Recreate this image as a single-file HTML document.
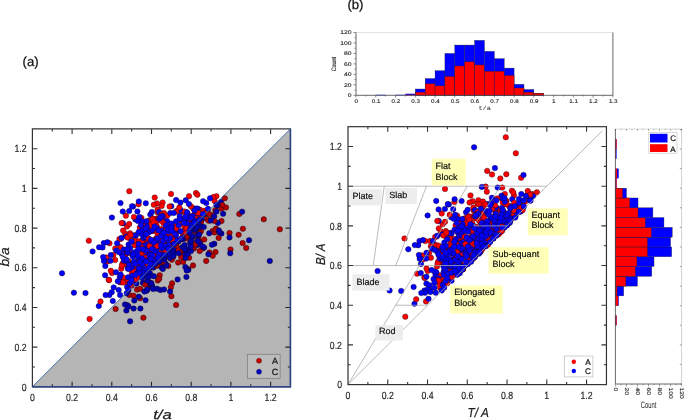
<!DOCTYPE html><html><head><meta charset="utf-8"><title>fig</title><style>html,body{margin:0;padding:0;background:#fff}svg{display:block;text-rendering:geometricPrecision}svg{will-change:transform}</style></head><body>
<svg width="685" height="420" viewBox="0 0 685 420">
<rect width="685" height="420" fill="#fff"/>
<text x="22.6" y="65.6" font-family="Liberation Sans, sans-serif" font-size="13.2" fill="#111" stroke="#111" stroke-width="0.25">(a)</text>
<text x="347.4" y="9.4" font-family="Liberation Sans, sans-serif" font-size="13.2" fill="#111" stroke="#111" stroke-width="0.25">(b)</text>
<path d="M32.40 386.80V128.88H290.45V386.80Z" stroke="#333" stroke-width="1.2" fill="none"/>
<path d="M52.25 386.80v-2.6M52.25 128.88v2.6M32.40 366.96h2.6M290.45 366.96h-2.6M72.10 386.80v-5.0M72.10 128.88v5.0M32.40 347.12h5.0M290.45 347.12h-5.0M91.95 386.80v-2.6M91.95 128.88v2.6M32.40 327.28h2.6M290.45 327.28h-2.6M111.80 386.80v-5.0M111.80 128.88v5.0M32.40 307.44h5.0M290.45 307.44h-5.0M131.65 386.80v-2.6M131.65 128.88v2.6M32.40 287.60h2.6M290.45 287.60h-2.6M151.50 386.80v-5.0M151.50 128.88v5.0M32.40 267.76h5.0M290.45 267.76h-5.0M171.35 386.80v-2.6M171.35 128.88v2.6M32.40 247.92h2.6M290.45 247.92h-2.6M191.20 386.80v-5.0M191.20 128.88v5.0M32.40 228.08h5.0M290.45 228.08h-5.0M211.05 386.80v-2.6M211.05 128.88v2.6M32.40 208.24h2.6M290.45 208.24h-2.6M230.90 386.80v-5.0M230.90 128.88v5.0M32.40 188.40h5.0M290.45 188.40h-5.0M250.75 386.80v-2.6M250.75 128.88v2.6M32.40 168.56h2.6M290.45 168.56h-2.6M270.60 386.80v-5.0M270.60 128.88v5.0M32.40 148.72h5.0M290.45 148.72h-5.0" stroke="#333" stroke-width="1.1" fill="none"/>
<g font-family="Liberation Sans, sans-serif" font-size="10.4" fill="#1a1a1a" stroke="#1a1a1a" stroke-width="0.15" transform="scale(0.84,1)"><text x="38.57" y="401.40" text-anchor="middle">0</text><text x="31.67" y="390.50" text-anchor="end">0</text><text x="85.83" y="401.40" text-anchor="middle">0.2</text><text x="31.67" y="350.82" text-anchor="end">0.2</text><text x="133.10" y="401.40" text-anchor="middle">0.4</text><text x="31.67" y="311.14" text-anchor="end">0.4</text><text x="180.36" y="401.40" text-anchor="middle">0.6</text><text x="31.67" y="271.46" text-anchor="end">0.6</text><text x="227.62" y="401.40" text-anchor="middle">0.8</text><text x="31.67" y="231.78" text-anchor="end">0.8</text><text x="274.88" y="401.40" text-anchor="middle">1</text><text x="31.67" y="192.10" text-anchor="end">1</text><text x="322.14" y="401.40" text-anchor="middle">1.2</text><text x="31.67" y="152.42" text-anchor="end">1.2</text></g>
<g stroke="#1a0018" stroke-width="0.4"><circle cx="149.9" cy="274.5" r="2.75" fill="#f00"/><circle cx="163.8" cy="253.6" r="2.75" fill="#f00"/><circle cx="173.5" cy="243.4" r="2.75" fill="#f00"/><circle cx="198.0" cy="231.8" r="2.75" fill="#f00"/><circle cx="191.6" cy="216.4" r="2.75" fill="#f00"/><circle cx="147.3" cy="271.4" r="2.75" fill="#f00"/><circle cx="191.6" cy="229.7" r="2.75" fill="#f00"/><circle cx="155.1" cy="246.3" r="2.75" fill="#f00"/><circle cx="141.4" cy="217.9" r="2.75" fill="#f00"/><circle cx="152.2" cy="231.1" r="2.75" fill="#f00"/><circle cx="126.4" cy="264.8" r="2.75" fill="#f00"/><circle cx="190.9" cy="248.0" r="2.75" fill="#f00"/><circle cx="160.6" cy="241.2" r="2.75" fill="#f00"/><circle cx="146.0" cy="241.2" r="2.75" fill="#f00"/><circle cx="163.8" cy="239.9" r="2.75" fill="#f00"/><circle cx="149.7" cy="220.2" r="2.75" fill="#f00"/><circle cx="200.9" cy="231.2" r="2.75" fill="#f00"/><circle cx="197.2" cy="214.3" r="2.75" fill="#f00"/><circle cx="134.8" cy="245.3" r="2.75" fill="#f00"/><circle cx="176.7" cy="239.7" r="2.75" fill="#f00"/><circle cx="138.6" cy="243.4" r="2.75" fill="#f00"/><circle cx="199.2" cy="233.0" r="2.75" fill="#f00"/><circle cx="126.3" cy="264.4" r="2.75" fill="#f00"/><circle cx="147.1" cy="240.0" r="2.75" fill="#f00"/><circle cx="153.7" cy="240.9" r="2.75" fill="#f00"/><circle cx="120.4" cy="247.1" r="2.75" fill="#f00"/><circle cx="165.3" cy="220.9" r="2.75" fill="#f00"/><circle cx="160.1" cy="257.0" r="2.75" fill="#f00"/><circle cx="209.5" cy="252.5" r="2.75" fill="#f00"/><circle cx="125.2" cy="233.8" r="2.75" fill="#f00"/><circle cx="193.2" cy="227.3" r="2.75" fill="#f00"/><circle cx="206.9" cy="219.0" r="2.75" fill="#f00"/><circle cx="178.1" cy="262.6" r="2.75" fill="#f00"/><circle cx="174.6" cy="235.8" r="2.75" fill="#f00"/><circle cx="194.9" cy="213.1" r="2.75" fill="#f00"/><circle cx="162.4" cy="237.9" r="2.75" fill="#f00"/><circle cx="146.0" cy="252.2" r="2.75" fill="#f00"/><circle cx="108.7" cy="279.8" r="2.75" fill="#f00"/><circle cx="141.8" cy="245.3" r="2.75" fill="#f00"/><circle cx="131.6" cy="285.4" r="2.75" fill="#f00"/><circle cx="216.0" cy="228.8" r="2.75" fill="#f00"/><circle cx="165.3" cy="254.5" r="2.75" fill="#f00"/><circle cx="166.2" cy="236.1" r="2.75" fill="#f00"/><circle cx="153.1" cy="240.9" r="2.75" fill="#f00"/><circle cx="153.3" cy="222.6" r="2.75" fill="#f00"/><circle cx="239.3" cy="214.0" r="2.75" fill="#f00"/><circle cx="193.1" cy="208.2" r="2.75" fill="#f00"/><circle cx="128.7" cy="262.5" r="2.75" fill="#f00"/><circle cx="172.1" cy="242.4" r="2.75" fill="#f00"/><circle cx="191.3" cy="239.6" r="2.75" fill="#f00"/><circle cx="128.0" cy="283.0" r="2.75" fill="#f00"/><circle cx="112.0" cy="273.1" r="2.75" fill="#f00"/><circle cx="200.0" cy="209.8" r="2.75" fill="#f00"/><circle cx="181.9" cy="251.9" r="2.75" fill="#f00"/><circle cx="89.6" cy="318.9" r="2.75" fill="#f00"/><circle cx="183.2" cy="261.9" r="2.75" fill="#f00"/><circle cx="115.2" cy="260.0" r="2.75" fill="#f00"/><circle cx="156.2" cy="238.2" r="2.75" fill="#f00"/><circle cx="134.7" cy="237.8" r="2.75" fill="#f00"/><circle cx="142.3" cy="250.0" r="2.75" fill="#f00"/><circle cx="172.1" cy="283.3" r="2.75" fill="#f00"/><circle cx="156.6" cy="247.2" r="2.75" fill="#f00"/><circle cx="193.9" cy="248.4" r="2.75" fill="#f00"/><circle cx="137.0" cy="289.6" r="2.75" fill="#f00"/><circle cx="147.0" cy="242.7" r="2.75" fill="#f00"/><circle cx="147.5" cy="240.8" r="2.75" fill="#f00"/><circle cx="163.6" cy="237.2" r="2.75" fill="#f00"/><circle cx="162.6" cy="202.5" r="2.75" fill="#f00"/><circle cx="212.6" cy="231.1" r="2.75" fill="#f00"/><circle cx="179.7" cy="252.9" r="2.75" fill="#f00"/><circle cx="127.2" cy="280.1" r="2.75" fill="#f00"/><circle cx="157.8" cy="280.5" r="2.75" fill="#f00"/><circle cx="206.3" cy="213.6" r="2.75" fill="#f00"/><circle cx="166.2" cy="240.2" r="2.75" fill="#f00"/><circle cx="145.0" cy="267.2" r="2.75" fill="#f00"/><circle cx="121.3" cy="268.7" r="2.75" fill="#f00"/><circle cx="184.8" cy="212.4" r="2.75" fill="#f00"/><circle cx="128.8" cy="267.0" r="2.75" fill="#f00"/><circle cx="188.0" cy="233.9" r="2.75" fill="#f00"/><circle cx="166.2" cy="245.4" r="2.75" fill="#f00"/><circle cx="122.5" cy="263.6" r="2.75" fill="#f00"/><circle cx="185.0" cy="234.3" r="2.75" fill="#f00"/><circle cx="144.3" cy="268.0" r="2.75" fill="#f00"/><circle cx="153.6" cy="256.4" r="2.75" fill="#f00"/><circle cx="230.5" cy="249.5" r="2.75" fill="#f00"/><circle cx="161.3" cy="215.4" r="2.75" fill="#f00"/><circle cx="163.9" cy="212.9" r="2.75" fill="#f00"/><circle cx="115.2" cy="248.5" r="2.75" fill="#f00"/><circle cx="151.1" cy="257.2" r="2.75" fill="#f00"/><circle cx="193.8" cy="209.1" r="2.75" fill="#f00"/><circle cx="149.1" cy="286.5" r="2.75" fill="#f00"/><circle cx="158.0" cy="251.1" r="2.75" fill="#f00"/><circle cx="188.3" cy="269.1" r="2.75" fill="#f00"/><circle cx="180.9" cy="211.3" r="2.75" fill="#f00"/><circle cx="137.9" cy="264.7" r="2.75" fill="#f00"/><circle cx="131.9" cy="272.9" r="2.75" fill="#f00"/><circle cx="127.0" cy="226.5" r="2.75" fill="#f00"/><circle cx="174.6" cy="239.2" r="2.75" fill="#f00"/><circle cx="135.4" cy="235.2" r="2.75" fill="#f00"/><circle cx="145.1" cy="266.5" r="2.75" fill="#f00"/><circle cx="164.1" cy="265.6" r="2.75" fill="#f00"/><circle cx="195.3" cy="231.3" r="2.75" fill="#f00"/><circle cx="152.7" cy="262.2" r="2.75" fill="#f00"/><circle cx="139.0" cy="241.2" r="2.75" fill="#f00"/><circle cx="88.8" cy="240.7" r="2.75" fill="#f00"/><circle cx="145.0" cy="246.5" r="2.75" fill="#f00"/><circle cx="200.3" cy="241.5" r="2.75" fill="#f00"/><circle cx="167.0" cy="238.3" r="2.75" fill="#f00"/><circle cx="215.5" cy="252.1" r="2.75" fill="#f00"/><circle cx="182.1" cy="237.9" r="2.75" fill="#f00"/><circle cx="167.4" cy="215.6" r="2.75" fill="#f00"/><circle cx="208.7" cy="220.8" r="2.75" fill="#f00"/><circle cx="164.0" cy="249.4" r="2.75" fill="#f00"/><circle cx="221.4" cy="208.6" r="2.75" fill="#f00"/><circle cx="167.9" cy="237.5" r="2.75" fill="#f00"/><circle cx="119.3" cy="281.0" r="2.75" fill="#f00"/><circle cx="246.2" cy="247.9" r="2.75" fill="#f00"/><circle cx="203.6" cy="212.7" r="2.75" fill="#f00"/><circle cx="120.9" cy="238.8" r="2.75" fill="#f00"/><circle cx="163.0" cy="255.1" r="2.75" fill="#f00"/><circle cx="189.7" cy="236.0" r="2.75" fill="#f00"/><circle cx="161.1" cy="244.4" r="2.75" fill="#f00"/><circle cx="204.3" cy="210.8" r="2.75" fill="#f00"/><circle cx="153.8" cy="246.1" r="2.75" fill="#f00"/><circle cx="159.3" cy="242.2" r="2.75" fill="#f00"/><circle cx="168.4" cy="230.0" r="2.75" fill="#f00"/><circle cx="202.8" cy="248.4" r="2.75" fill="#f00"/><circle cx="185.0" cy="255.8" r="2.75" fill="#f00"/><circle cx="140.2" cy="288.8" r="2.75" fill="#f00"/><circle cx="165.3" cy="242.4" r="2.75" fill="#f00"/><circle cx="149.5" cy="225.7" r="2.75" fill="#f00"/><circle cx="216.4" cy="196.2" r="2.75" fill="#f00"/><circle cx="212.8" cy="215.2" r="2.75" fill="#f00"/><circle cx="221.5" cy="221.1" r="2.75" fill="#f00"/><circle cx="147.6" cy="231.7" r="2.75" fill="#f00"/><circle cx="214.5" cy="232.4" r="2.75" fill="#f00"/><circle cx="157.3" cy="260.2" r="2.75" fill="#f00"/><circle cx="129.3" cy="191.2" r="2.75" fill="#f00"/><circle cx="214.6" cy="201.0" r="2.75" fill="#f00"/><circle cx="148.5" cy="272.6" r="2.75" fill="#f00"/><circle cx="156.6" cy="231.7" r="2.75" fill="#f00"/><circle cx="176.1" cy="305.0" r="2.75" fill="#f00"/><circle cx="128.5" cy="263.0" r="2.75" fill="#f00"/><circle cx="171.0" cy="193.9" r="2.75" fill="#f00"/><circle cx="185.2" cy="238.5" r="2.75" fill="#f00"/><circle cx="192.4" cy="229.1" r="2.75" fill="#f00"/><circle cx="155.7" cy="246.8" r="2.75" fill="#f00"/><circle cx="145.2" cy="257.0" r="2.75" fill="#f00"/><circle cx="181.9" cy="222.8" r="2.75" fill="#f00"/><circle cx="172.2" cy="240.3" r="2.75" fill="#f00"/><circle cx="142.5" cy="240.5" r="2.75" fill="#f00"/><circle cx="156.3" cy="254.3" r="2.75" fill="#f00"/><circle cx="229.5" cy="232.9" r="2.75" fill="#f00"/><circle cx="156.4" cy="230.8" r="2.75" fill="#f00"/><circle cx="107.4" cy="261.4" r="2.75" fill="#f00"/><circle cx="123.7" cy="258.6" r="2.75" fill="#f00"/><circle cx="148.3" cy="273.7" r="2.75" fill="#f00"/><circle cx="212.7" cy="219.0" r="2.75" fill="#f00"/><circle cx="109.1" cy="280.2" r="2.75" fill="#f00"/><circle cx="151.4" cy="249.9" r="2.75" fill="#f00"/><circle cx="164.0" cy="235.8" r="2.75" fill="#f00"/><circle cx="128.0" cy="279.0" r="2.75" fill="#f00"/><circle cx="119.4" cy="239.1" r="2.75" fill="#f00"/><circle cx="168.7" cy="252.7" r="2.75" fill="#f00"/><circle cx="165.0" cy="250.6" r="2.75" fill="#f00"/><circle cx="139.8" cy="227.5" r="2.75" fill="#f00"/><circle cx="140.0" cy="298.3" r="2.75" fill="#f00"/><circle cx="159.9" cy="232.5" r="2.75" fill="#f00"/><circle cx="109.5" cy="243.3" r="2.75" fill="#f00"/><circle cx="195.6" cy="220.9" r="2.75" fill="#f00"/><circle cx="142.9" cy="246.2" r="2.75" fill="#f00"/><circle cx="196.0" cy="193.0" r="2.75" fill="#f00"/><circle cx="152.3" cy="247.4" r="2.75" fill="#f00"/><circle cx="189.0" cy="196.2" r="2.75" fill="#f00"/><circle cx="171.5" cy="248.0" r="2.75" fill="#f00"/><circle cx="193.0" cy="265.4" r="2.75" fill="#f00"/><circle cx="129.3" cy="294.9" r="2.75" fill="#f00"/><circle cx="202.5" cy="212.1" r="2.75" fill="#f00"/><circle cx="155.7" cy="258.9" r="2.75" fill="#00f"/><circle cx="141.9" cy="263.6" r="2.75" fill="#f00"/><circle cx="172.4" cy="247.4" r="2.75" fill="#00f"/><circle cx="144.2" cy="234.3" r="2.75" fill="#f00"/><circle cx="177.0" cy="210.7" r="2.75" fill="#f00"/><circle cx="134.1" cy="274.0" r="2.75" fill="#f00"/><circle cx="125.9" cy="215.7" r="2.75" fill="#f00"/><circle cx="110.8" cy="270.8" r="2.75" fill="#f00"/><circle cx="168.3" cy="265.9" r="2.75" fill="#f00"/><circle cx="130.3" cy="238.6" r="2.75" fill="#f00"/><circle cx="171.7" cy="230.0" r="2.75" fill="#00f"/><circle cx="188.8" cy="219.6" r="2.75" fill="#f00"/><circle cx="159.7" cy="235.4" r="2.75" fill="#00f"/><circle cx="150.3" cy="214.5" r="2.75" fill="#00f"/><circle cx="111.7" cy="292.2" r="2.75" fill="#00f"/><circle cx="126.4" cy="310.5" r="2.75" fill="#00f"/><circle cx="136.4" cy="283.5" r="2.75" fill="#00f"/><circle cx="142.6" cy="263.6" r="2.75" fill="#00f"/><circle cx="170.7" cy="258.2" r="2.75" fill="#00f"/><circle cx="156.1" cy="260.6" r="2.75" fill="#f00"/><circle cx="157.6" cy="257.1" r="2.75" fill="#f00"/><circle cx="157.7" cy="264.1" r="2.75" fill="#f00"/><circle cx="148.2" cy="223.9" r="2.75" fill="#00f"/><circle cx="143.3" cy="271.8" r="2.75" fill="#f00"/><circle cx="150.2" cy="250.1" r="2.75" fill="#00f"/><circle cx="145.3" cy="225.1" r="2.75" fill="#f00"/><circle cx="167.0" cy="231.1" r="2.75" fill="#00f"/><circle cx="123.1" cy="277.5" r="2.75" fill="#f00"/><circle cx="115.6" cy="309.0" r="2.75" fill="#f00"/><circle cx="153.4" cy="267.6" r="2.75" fill="#00f"/><circle cx="165.4" cy="248.6" r="2.75" fill="#00f"/><circle cx="106.4" cy="257.6" r="2.75" fill="#f00"/><circle cx="139.8" cy="259.8" r="2.75" fill="#00f"/><circle cx="198.6" cy="215.4" r="2.75" fill="#f00"/><circle cx="156.1" cy="265.5" r="2.75" fill="#f00"/><circle cx="151.4" cy="264.1" r="2.75" fill="#f00"/><circle cx="198.3" cy="236.9" r="2.75" fill="#f00"/><circle cx="120.5" cy="203.1" r="2.75" fill="#00f"/><circle cx="135.5" cy="219.4" r="2.75" fill="#00f"/><circle cx="150.4" cy="257.8" r="2.75" fill="#f00"/><circle cx="150.5" cy="242.6" r="2.75" fill="#f00"/><circle cx="113.4" cy="255.0" r="2.75" fill="#f00"/><circle cx="167.5" cy="236.5" r="2.75" fill="#00f"/><circle cx="156.9" cy="203.4" r="2.75" fill="#f00"/><circle cx="123.9" cy="249.5" r="2.75" fill="#00f"/><circle cx="140.9" cy="268.5" r="2.75" fill="#00f"/><circle cx="154.6" cy="262.4" r="2.75" fill="#00f"/><circle cx="162.9" cy="251.5" r="2.75" fill="#f00"/><circle cx="147.4" cy="272.4" r="2.75" fill="#f00"/><circle cx="174.0" cy="243.7" r="2.75" fill="#00f"/><circle cx="140.3" cy="259.7" r="2.75" fill="#00f"/><circle cx="139.1" cy="247.6" r="2.75" fill="#f00"/><circle cx="125.2" cy="254.8" r="2.75" fill="#f00"/><circle cx="159.4" cy="231.6" r="2.75" fill="#00f"/><circle cx="136.9" cy="262.7" r="2.75" fill="#f00"/><circle cx="140.5" cy="220.1" r="2.75" fill="#f00"/><circle cx="159.7" cy="275.3" r="2.75" fill="#f00"/><circle cx="147.4" cy="244.3" r="2.75" fill="#00f"/><circle cx="144.6" cy="245.8" r="2.75" fill="#00f"/><circle cx="144.0" cy="238.3" r="2.75" fill="#f00"/><circle cx="188.2" cy="217.6" r="2.75" fill="#00f"/><circle cx="164.0" cy="263.9" r="2.75" fill="#00f"/><circle cx="153.8" cy="204.8" r="2.75" fill="#f00"/><circle cx="165.6" cy="226.8" r="2.75" fill="#00f"/><circle cx="195.4" cy="218.0" r="2.75" fill="#f00"/><circle cx="134.3" cy="269.3" r="2.75" fill="#00f"/><circle cx="197.8" cy="208.7" r="2.75" fill="#00f"/><circle cx="221.4" cy="233.6" r="2.75" fill="#00f"/><circle cx="156.6" cy="240.5" r="2.75" fill="#00f"/><circle cx="238.6" cy="234.8" r="2.75" fill="#f00"/><circle cx="149.3" cy="255.9" r="2.75" fill="#00f"/><circle cx="151.3" cy="230.9" r="2.75" fill="#00f"/><circle cx="138.0" cy="257.3" r="2.75" fill="#00f"/><circle cx="206.2" cy="260.9" r="2.75" fill="#f00"/><circle cx="138.5" cy="264.6" r="2.75" fill="#00f"/><circle cx="184.6" cy="231.2" r="2.75" fill="#00f"/><circle cx="144.8" cy="260.8" r="2.75" fill="#00f"/><circle cx="143.9" cy="267.9" r="2.75" fill="#00f"/><circle cx="190.2" cy="240.8" r="2.75" fill="#f00"/><circle cx="177.1" cy="248.1" r="2.75" fill="#00f"/><circle cx="170.3" cy="213.1" r="2.75" fill="#00f"/><circle cx="154.6" cy="258.1" r="2.75" fill="#00f"/><circle cx="204.3" cy="214.0" r="2.75" fill="#00f"/><circle cx="128.6" cy="244.6" r="2.75" fill="#00f"/><circle cx="141.1" cy="262.9" r="2.75" fill="#00f"/><circle cx="180.2" cy="231.2" r="2.75" fill="#f00"/><circle cx="171.4" cy="228.3" r="2.75" fill="#00f"/><circle cx="213.3" cy="197.1" r="2.75" fill="#f00"/><circle cx="152.4" cy="251.9" r="2.75" fill="#00f"/><circle cx="128.1" cy="261.1" r="2.75" fill="#f00"/><circle cx="133.6" cy="295.7" r="2.75" fill="#f00"/><circle cx="242.9" cy="228.8" r="2.75" fill="#f00"/><circle cx="221.0" cy="202.0" r="2.75" fill="#00f"/><circle cx="190.7" cy="247.4" r="2.75" fill="#f00"/><circle cx="196.2" cy="208.4" r="2.75" fill="#00f"/><circle cx="134.2" cy="279.8" r="2.75" fill="#00f"/><circle cx="184.4" cy="226.4" r="2.75" fill="#f00"/><circle cx="185.9" cy="229.6" r="2.75" fill="#00f"/><circle cx="127.1" cy="286.9" r="2.75" fill="#00f"/><circle cx="198.3" cy="213.8" r="2.75" fill="#00f"/><circle cx="150.9" cy="258.5" r="2.75" fill="#00f"/><circle cx="73.9" cy="292.7" r="2.75" fill="#00f"/><circle cx="123.0" cy="223.2" r="2.75" fill="#00f"/><circle cx="153.3" cy="262.3" r="2.75" fill="#00f"/><circle cx="148.3" cy="221.2" r="2.75" fill="#f00"/><circle cx="197.2" cy="241.0" r="2.75" fill="#f00"/><circle cx="129.1" cy="252.9" r="2.75" fill="#f00"/><circle cx="120.2" cy="282.3" r="2.75" fill="#00f"/><circle cx="180.6" cy="209.9" r="2.75" fill="#00f"/><circle cx="157.8" cy="212.5" r="2.75" fill="#f00"/><circle cx="127.4" cy="305.3" r="2.75" fill="#00f"/><circle cx="150.2" cy="254.7" r="2.75" fill="#00f"/><circle cx="136.9" cy="265.1" r="2.75" fill="#00f"/><circle cx="157.8" cy="258.0" r="2.75" fill="#f00"/><circle cx="130.1" cy="321.3" r="2.75" fill="#00f"/><circle cx="134.3" cy="271.4" r="2.75" fill="#f00"/><circle cx="164.0" cy="248.8" r="2.75" fill="#f00"/><circle cx="163.7" cy="230.8" r="2.75" fill="#f00"/><circle cx="92.6" cy="251.4" r="2.75" fill="#00f"/><circle cx="161.4" cy="267.3" r="2.75" fill="#00f"/><circle cx="163.7" cy="253.0" r="2.75" fill="#f00"/><circle cx="145.9" cy="248.5" r="2.75" fill="#00f"/><circle cx="164.1" cy="223.2" r="2.75" fill="#f00"/><circle cx="185.1" cy="230.6" r="2.75" fill="#f00"/><circle cx="159.2" cy="278.8" r="2.75" fill="#f00"/><circle cx="138.8" cy="296.7" r="2.75" fill="#00f"/><circle cx="124.0" cy="260.8" r="2.75" fill="#00f"/><circle cx="149.8" cy="283.3" r="2.75" fill="#00f"/><circle cx="185.7" cy="200.3" r="2.75" fill="#00f"/><circle cx="154.7" cy="197.6" r="2.75" fill="#f00"/><circle cx="168.8" cy="234.6" r="2.75" fill="#f00"/><circle cx="183.1" cy="236.2" r="2.75" fill="#f00"/><circle cx="171.9" cy="249.2" r="2.75" fill="#00f"/><circle cx="215.4" cy="210.2" r="2.75" fill="#f00"/><circle cx="160.2" cy="244.0" r="2.75" fill="#00f"/><circle cx="170.9" cy="287.2" r="2.75" fill="#f00"/><circle cx="135.9" cy="235.4" r="2.75" fill="#00f"/><circle cx="153.4" cy="245.5" r="2.75" fill="#f00"/><circle cx="156.7" cy="218.6" r="2.75" fill="#f00"/><circle cx="171.7" cy="247.4" r="2.75" fill="#f00"/><circle cx="198.3" cy="212.9" r="2.75" fill="#f00"/><circle cx="157.6" cy="209.6" r="2.75" fill="#f00"/><circle cx="152.6" cy="225.4" r="2.75" fill="#00f"/><circle cx="153.0" cy="255.5" r="2.75" fill="#00f"/><circle cx="167.1" cy="221.1" r="2.75" fill="#00f"/><circle cx="151.0" cy="282.9" r="2.75" fill="#f00"/><circle cx="173.4" cy="252.3" r="2.75" fill="#00f"/><circle cx="153.0" cy="218.4" r="2.75" fill="#f00"/><circle cx="204.2" cy="239.4" r="2.75" fill="#f00"/><circle cx="161.7" cy="206.0" r="2.75" fill="#f00"/><circle cx="103.8" cy="243.1" r="2.75" fill="#00f"/><circle cx="219.5" cy="232.4" r="2.75" fill="#00f"/><circle cx="206.3" cy="203.0" r="2.75" fill="#00f"/><circle cx="171.4" cy="296.2" r="2.75" fill="#f00"/><circle cx="242.6" cy="243.1" r="2.75" fill="#f00"/><circle cx="142.9" cy="282.8" r="2.75" fill="#00f"/><circle cx="142.2" cy="230.5" r="2.75" fill="#00f"/><circle cx="126.9" cy="249.8" r="2.75" fill="#00f"/><circle cx="141.7" cy="247.4" r="2.75" fill="#f00"/><circle cx="123.1" cy="230.6" r="2.75" fill="#f00"/><circle cx="147.4" cy="250.1" r="2.75" fill="#00f"/><circle cx="176.2" cy="211.5" r="2.75" fill="#f00"/><circle cx="170.6" cy="231.8" r="2.75" fill="#f00"/><circle cx="189.1" cy="257.8" r="2.75" fill="#f00"/><circle cx="159.0" cy="212.1" r="2.75" fill="#00f"/><circle cx="156.5" cy="250.4" r="2.75" fill="#00f"/><circle cx="197.6" cy="245.1" r="2.75" fill="#00f"/><circle cx="162.6" cy="234.6" r="2.75" fill="#00f"/><circle cx="172.9" cy="251.3" r="2.75" fill="#00f"/><circle cx="136.4" cy="265.8" r="2.75" fill="#f00"/><circle cx="156.6" cy="225.6" r="2.75" fill="#f00"/><circle cx="121.5" cy="237.9" r="2.75" fill="#00f"/><circle cx="109.4" cy="295.0" r="2.75" fill="#00f"/><circle cx="146.3" cy="284.4" r="2.75" fill="#00f"/><circle cx="126.6" cy="236.5" r="2.75" fill="#00f"/><circle cx="150.8" cy="241.8" r="2.75" fill="#f00"/><circle cx="172.4" cy="235.5" r="2.75" fill="#f00"/><circle cx="159.1" cy="262.8" r="2.75" fill="#f00"/><circle cx="161.6" cy="214.4" r="2.75" fill="#f00"/><circle cx="98.8" cy="306.0" r="2.75" fill="#00f"/><circle cx="160.4" cy="290.0" r="2.75" fill="#00f"/><circle cx="182.9" cy="232.6" r="2.75" fill="#f00"/><circle cx="217.9" cy="222.9" r="2.75" fill="#00f"/><circle cx="174.4" cy="226.3" r="2.75" fill="#f00"/><circle cx="218.6" cy="237.9" r="2.75" fill="#f00"/><circle cx="152.5" cy="287.0" r="2.75" fill="#00f"/><circle cx="141.9" cy="234.4" r="2.75" fill="#00f"/><circle cx="188.4" cy="221.4" r="2.75" fill="#f00"/><circle cx="146.6" cy="290.8" r="2.75" fill="#00f"/><circle cx="170.1" cy="291.6" r="2.75" fill="#00f"/><circle cx="130.1" cy="248.2" r="2.75" fill="#00f"/><circle cx="111.9" cy="217.6" r="2.75" fill="#00f"/><circle cx="187.7" cy="213.7" r="2.75" fill="#f00"/><circle cx="143.5" cy="270.3" r="2.75" fill="#00f"/><circle cx="193.4" cy="229.6" r="2.75" fill="#00f"/><circle cx="184.9" cy="211.6" r="2.75" fill="#f00"/><circle cx="184.4" cy="236.9" r="2.75" fill="#00f"/><circle cx="200.7" cy="220.7" r="2.75" fill="#f00"/><circle cx="148.3" cy="232.7" r="2.75" fill="#00f"/><circle cx="143.3" cy="238.0" r="2.75" fill="#00f"/><circle cx="193.2" cy="247.4" r="2.75" fill="#f00"/><circle cx="153.7" cy="260.0" r="2.75" fill="#f00"/><circle cx="160.3" cy="217.5" r="2.75" fill="#f00"/><circle cx="152.6" cy="229.6" r="2.75" fill="#00f"/><circle cx="137.5" cy="272.6" r="2.75" fill="#00f"/><circle cx="143.1" cy="270.3" r="2.75" fill="#00f"/><circle cx="151.1" cy="247.5" r="2.75" fill="#f00"/><circle cx="188.1" cy="216.0" r="2.75" fill="#00f"/><circle cx="179.3" cy="207.5" r="2.75" fill="#f00"/><circle cx="154.6" cy="249.0" r="2.75" fill="#00f"/><circle cx="214.3" cy="243.8" r="2.75" fill="#00f"/><circle cx="134.0" cy="240.9" r="2.75" fill="#f00"/><circle cx="156.0" cy="258.2" r="2.75" fill="#00f"/><circle cx="150.3" cy="225.6" r="2.75" fill="#f00"/><circle cx="195.7" cy="244.2" r="2.75" fill="#f00"/><circle cx="137.3" cy="255.0" r="2.75" fill="#00f"/><circle cx="135.7" cy="279.3" r="2.75" fill="#f00"/><circle cx="110.5" cy="260.8" r="2.75" fill="#00f"/><circle cx="136.9" cy="265.8" r="2.75" fill="#f00"/><circle cx="116.2" cy="250.6" r="2.75" fill="#00f"/><circle cx="164.9" cy="251.0" r="2.75" fill="#f00"/><circle cx="158.5" cy="244.6" r="2.75" fill="#00f"/><circle cx="177.6" cy="279.4" r="2.75" fill="#00f"/><circle cx="190.3" cy="243.1" r="2.75" fill="#00f"/><circle cx="175.8" cy="230.3" r="2.75" fill="#00f"/><circle cx="151.8" cy="248.9" r="2.75" fill="#f00"/><circle cx="131.5" cy="267.3" r="2.75" fill="#00f"/><circle cx="160.5" cy="229.0" r="2.75" fill="#f00"/><circle cx="192.5" cy="216.1" r="2.75" fill="#00f"/><circle cx="199.3" cy="227.0" r="2.75" fill="#00f"/><circle cx="197.8" cy="227.8" r="2.75" fill="#f00"/><circle cx="157.2" cy="260.9" r="2.75" fill="#f00"/><circle cx="181.3" cy="257.3" r="2.75" fill="#f00"/><circle cx="152.5" cy="219.5" r="2.75" fill="#f00"/><circle cx="160.0" cy="240.5" r="2.75" fill="#00f"/><circle cx="176.1" cy="235.2" r="2.75" fill="#00f"/><circle cx="150.8" cy="244.5" r="2.75" fill="#00f"/><circle cx="157.3" cy="245.9" r="2.75" fill="#f00"/><circle cx="226.0" cy="207.4" r="2.75" fill="#f00"/><circle cx="194.0" cy="225.0" r="2.75" fill="#00f"/><circle cx="146.1" cy="234.4" r="2.75" fill="#00f"/><circle cx="157.9" cy="220.3" r="2.75" fill="#f00"/><circle cx="188.5" cy="225.6" r="2.75" fill="#00f"/><circle cx="192.6" cy="236.8" r="2.75" fill="#00f"/><circle cx="197.4" cy="194.7" r="2.75" fill="#f00"/><circle cx="229.5" cy="237.4" r="2.75" fill="#00f"/><circle cx="154.5" cy="260.4" r="2.75" fill="#00f"/><circle cx="148.6" cy="247.2" r="2.75" fill="#00f"/><circle cx="207.0" cy="212.5" r="2.75" fill="#f00"/><circle cx="175.6" cy="230.3" r="2.75" fill="#f00"/><circle cx="144.4" cy="291.5" r="2.75" fill="#00f"/><circle cx="185.5" cy="254.4" r="2.75" fill="#00f"/><circle cx="180.0" cy="251.2" r="2.75" fill="#f00"/><circle cx="143.4" cy="261.7" r="2.75" fill="#00f"/><circle cx="133.9" cy="216.9" r="2.75" fill="#f00"/><circle cx="154.9" cy="252.0" r="2.75" fill="#00f"/><circle cx="138.6" cy="204.3" r="2.75" fill="#f00"/><circle cx="137.2" cy="273.2" r="2.75" fill="#00f"/><circle cx="174.4" cy="253.0" r="2.75" fill="#00f"/><circle cx="263.8" cy="219.3" r="2.75" fill="#f00"/><circle cx="186.0" cy="250.3" r="2.75" fill="#00f"/><circle cx="171.3" cy="206.3" r="2.75" fill="#00f"/><circle cx="144.4" cy="252.4" r="2.75" fill="#00f"/><circle cx="149.6" cy="246.1" r="2.75" fill="#f00"/><circle cx="143.3" cy="251.4" r="2.75" fill="#f00"/><circle cx="119.8" cy="281.9" r="2.75" fill="#f00"/><circle cx="127.8" cy="268.6" r="2.75" fill="#00f"/><circle cx="127.5" cy="237.6" r="2.75" fill="#f00"/><circle cx="212.7" cy="255.8" r="2.75" fill="#f00"/><circle cx="171.8" cy="259.7" r="2.75" fill="#f00"/><circle cx="199.6" cy="251.1" r="2.75" fill="#f00"/><circle cx="141.2" cy="254.8" r="2.75" fill="#f00"/><circle cx="177.7" cy="249.1" r="2.75" fill="#f00"/><circle cx="127.2" cy="261.4" r="2.75" fill="#00f"/><circle cx="153.9" cy="255.9" r="2.75" fill="#f00"/><circle cx="157.1" cy="265.4" r="2.75" fill="#f00"/><circle cx="122.4" cy="253.9" r="2.75" fill="#f00"/><circle cx="173.2" cy="257.0" r="2.75" fill="#f00"/><circle cx="145.6" cy="236.5" r="2.75" fill="#f00"/><circle cx="152.2" cy="248.9" r="2.75" fill="#00f"/><circle cx="145.2" cy="284.8" r="2.75" fill="#f00"/><circle cx="121.9" cy="265.7" r="2.75" fill="#f00"/><circle cx="214.4" cy="220.9" r="2.75" fill="#f00"/><circle cx="133.3" cy="235.4" r="2.75" fill="#00f"/><circle cx="165.0" cy="239.9" r="2.75" fill="#f00"/><circle cx="153.0" cy="267.1" r="2.75" fill="#00f"/><circle cx="146.4" cy="221.2" r="2.75" fill="#00f"/><circle cx="169.6" cy="206.6" r="2.75" fill="#f00"/><circle cx="176.1" cy="200.0" r="2.75" fill="#00f"/><circle cx="169.2" cy="248.4" r="2.75" fill="#f00"/><circle cx="143.4" cy="317.8" r="2.75" fill="#f00"/><circle cx="168.7" cy="226.6" r="2.75" fill="#f00"/><circle cx="188.3" cy="269.9" r="2.75" fill="#00f"/><circle cx="193.1" cy="221.5" r="2.75" fill="#f00"/><circle cx="201.6" cy="219.5" r="2.75" fill="#00f"/><circle cx="152.3" cy="255.4" r="2.75" fill="#00f"/><circle cx="142.2" cy="274.3" r="2.75" fill="#00f"/><circle cx="138.8" cy="277.2" r="2.75" fill="#f00"/><circle cx="165.8" cy="263.8" r="2.75" fill="#00f"/><circle cx="215.9" cy="229.3" r="2.75" fill="#f00"/><circle cx="187.2" cy="236.2" r="2.75" fill="#f00"/><circle cx="129.2" cy="224.0" r="2.75" fill="#f00"/><circle cx="164.0" cy="262.4" r="2.75" fill="#f00"/><circle cx="100.5" cy="301.5" r="2.75" fill="#f00"/><circle cx="145.8" cy="203.3" r="2.75" fill="#00f"/><circle cx="137.6" cy="255.5" r="2.75" fill="#00f"/><circle cx="209.2" cy="233.3" r="2.75" fill="#00f"/><circle cx="121.8" cy="254.1" r="2.75" fill="#00f"/><circle cx="105.3" cy="266.1" r="2.75" fill="#00f"/><circle cx="201.0" cy="222.3" r="2.75" fill="#f00"/><circle cx="146.3" cy="270.3" r="2.75" fill="#00f"/><circle cx="143.1" cy="272.8" r="2.75" fill="#00f"/><circle cx="168.1" cy="239.9" r="2.75" fill="#00f"/><circle cx="157.7" cy="233.5" r="2.75" fill="#f00"/><circle cx="279.8" cy="229.3" r="2.75" fill="#f00"/><circle cx="192.0" cy="236.1" r="2.75" fill="#00f"/><circle cx="141.8" cy="221.2" r="2.75" fill="#00f"/><circle cx="186.5" cy="228.2" r="2.75" fill="#f00"/><circle cx="162.8" cy="269.0" r="2.75" fill="#00f"/><circle cx="139.6" cy="271.0" r="2.75" fill="#00f"/><circle cx="128.5" cy="306.6" r="2.75" fill="#00f"/><circle cx="173.3" cy="249.1" r="2.75" fill="#00f"/><circle cx="200.8" cy="226.5" r="2.75" fill="#00f"/><circle cx="156.7" cy="265.5" r="2.75" fill="#f00"/><circle cx="157.5" cy="237.4" r="2.75" fill="#f00"/><circle cx="190.5" cy="224.8" r="2.75" fill="#00f"/><circle cx="163.5" cy="223.3" r="2.75" fill="#f00"/><circle cx="128.1" cy="277.2" r="2.75" fill="#00f"/><circle cx="190.8" cy="206.2" r="2.75" fill="#f00"/><circle cx="175.6" cy="229.4" r="2.75" fill="#f00"/><circle cx="222.4" cy="205.0" r="2.75" fill="#f00"/><circle cx="138.7" cy="231.9" r="2.75" fill="#00f"/><circle cx="121.6" cy="223.1" r="2.75" fill="#f00"/><circle cx="163.4" cy="256.1" r="2.75" fill="#00f"/><circle cx="144.7" cy="236.7" r="2.75" fill="#00f"/><circle cx="162.4" cy="254.8" r="2.75" fill="#00f"/><circle cx="182.7" cy="247.0" r="2.75" fill="#00f"/><circle cx="176.6" cy="245.5" r="2.75" fill="#f00"/><circle cx="160.9" cy="241.0" r="2.75" fill="#00f"/><circle cx="194.6" cy="227.1" r="2.75" fill="#00f"/><circle cx="151.8" cy="284.8" r="2.75" fill="#00f"/><circle cx="130.0" cy="233.3" r="2.75" fill="#f00"/><circle cx="269.8" cy="261.0" r="2.75" fill="#00f"/><circle cx="137.4" cy="211.4" r="2.75" fill="#00f"/><circle cx="125.0" cy="304.5" r="2.75" fill="#00f"/><circle cx="130.6" cy="234.9" r="2.75" fill="#f00"/><circle cx="143.9" cy="275.4" r="2.75" fill="#00f"/><circle cx="176.2" cy="227.7" r="2.75" fill="#f00"/><circle cx="224.8" cy="198.3" r="2.75" fill="#f00"/><circle cx="153.5" cy="222.4" r="2.75" fill="#f00"/><circle cx="168.0" cy="248.4" r="2.75" fill="#f00"/><circle cx="133.1" cy="206.6" r="2.75" fill="#00f"/><circle cx="174.6" cy="233.5" r="2.75" fill="#00f"/><circle cx="138.6" cy="243.9" r="2.75" fill="#00f"/><circle cx="155.0" cy="240.5" r="2.75" fill="#00f"/><circle cx="209.3" cy="214.0" r="2.75" fill="#f00"/><circle cx="166.0" cy="252.0" r="2.75" fill="#f00"/><circle cx="170.0" cy="257.9" r="2.75" fill="#00f"/><circle cx="166.1" cy="225.2" r="2.75" fill="#00f"/><circle cx="123.0" cy="282.6" r="2.75" fill="#f00"/><circle cx="140.4" cy="308.5" r="2.75" fill="#00f"/><circle cx="195.5" cy="229.8" r="2.75" fill="#00f"/><circle cx="145.9" cy="237.3" r="2.75" fill="#00f"/><circle cx="134.0" cy="252.4" r="2.75" fill="#00f"/><circle cx="249.0" cy="240.2" r="2.75" fill="#00f"/><circle cx="196.5" cy="225.6" r="2.75" fill="#00f"/><circle cx="122.8" cy="211.6" r="2.75" fill="#00f"/><circle cx="186.3" cy="233.0" r="2.75" fill="#f00"/><circle cx="161.0" cy="220.7" r="2.75" fill="#f00"/><circle cx="159.0" cy="218.5" r="2.75" fill="#f00"/><circle cx="162.3" cy="240.0" r="2.75" fill="#f00"/><circle cx="148.8" cy="238.6" r="2.75" fill="#f00"/><circle cx="217.1" cy="205.5" r="2.75" fill="#00f"/><circle cx="182.6" cy="239.3" r="2.75" fill="#00f"/><circle cx="150.4" cy="264.1" r="2.75" fill="#00f"/><circle cx="162.7" cy="216.6" r="2.75" fill="#00f"/><circle cx="162.0" cy="215.9" r="2.75" fill="#00f"/><circle cx="204.2" cy="247.5" r="2.75" fill="#00f"/><circle cx="126.4" cy="259.0" r="2.75" fill="#00f"/><circle cx="104.7" cy="260.6" r="2.75" fill="#00f"/><circle cx="174.3" cy="244.1" r="2.75" fill="#00f"/><circle cx="210.0" cy="198.3" r="2.75" fill="#00f"/><circle cx="146.9" cy="226.5" r="2.75" fill="#00f"/><circle cx="214.2" cy="216.3" r="2.75" fill="#00f"/><circle cx="176.1" cy="221.3" r="2.75" fill="#00f"/><circle cx="194.5" cy="210.5" r="2.75" fill="#00f"/><circle cx="119.8" cy="276.9" r="2.75" fill="#00f"/><circle cx="185.6" cy="249.3" r="2.75" fill="#00f"/><circle cx="132.7" cy="256.5" r="2.75" fill="#00f"/><circle cx="132.3" cy="275.7" r="2.75" fill="#00f"/><circle cx="203.1" cy="201.2" r="2.75" fill="#00f"/><circle cx="145.4" cy="250.5" r="2.75" fill="#00f"/><circle cx="103.9" cy="261.0" r="2.75" fill="#00f"/><circle cx="133.6" cy="308.6" r="2.75" fill="#00f"/><circle cx="150.7" cy="258.5" r="2.75" fill="#00f"/><circle cx="119.1" cy="252.3" r="2.75" fill="#00f"/><circle cx="194.3" cy="220.6" r="2.75" fill="#00f"/><circle cx="178.5" cy="241.6" r="2.75" fill="#00f"/><circle cx="185.4" cy="267.1" r="2.75" fill="#00f"/><circle cx="181.7" cy="219.0" r="2.75" fill="#00f"/><circle cx="173.3" cy="256.1" r="2.75" fill="#00f"/><circle cx="203.8" cy="227.0" r="2.75" fill="#00f"/><circle cx="177.3" cy="240.6" r="2.75" fill="#00f"/><circle cx="196.0" cy="228.7" r="2.75" fill="#00f"/><circle cx="167.6" cy="230.5" r="2.75" fill="#00f"/><circle cx="129.9" cy="283.3" r="2.75" fill="#00f"/><circle cx="127.7" cy="252.7" r="2.75" fill="#00f"/><circle cx="184.7" cy="245.0" r="2.75" fill="#00f"/><circle cx="142.7" cy="249.0" r="2.75" fill="#00f"/><circle cx="171.8" cy="226.7" r="2.75" fill="#00f"/><circle cx="158.4" cy="258.5" r="2.75" fill="#00f"/><circle cx="180.6" cy="231.3" r="2.75" fill="#00f"/><circle cx="168.3" cy="231.6" r="2.75" fill="#00f"/><circle cx="168.5" cy="245.0" r="2.75" fill="#00f"/><circle cx="144.8" cy="260.8" r="2.75" fill="#00f"/><circle cx="187.0" cy="212.3" r="2.75" fill="#00f"/><circle cx="188.9" cy="204.0" r="2.75" fill="#00f"/><circle cx="153.9" cy="276.2" r="2.75" fill="#00f"/><circle cx="141.7" cy="263.7" r="2.75" fill="#00f"/><circle cx="164.4" cy="259.8" r="2.75" fill="#00f"/><circle cx="181.5" cy="238.6" r="2.75" fill="#00f"/><circle cx="110.8" cy="255.0" r="2.75" fill="#00f"/><circle cx="146.2" cy="275.5" r="2.75" fill="#00f"/><circle cx="147.6" cy="280.5" r="2.75" fill="#00f"/><circle cx="185.5" cy="258.0" r="2.75" fill="#00f"/><circle cx="151.2" cy="283.2" r="2.75" fill="#00f"/><circle cx="117.8" cy="281.3" r="2.75" fill="#00f"/><circle cx="141.9" cy="264.1" r="2.75" fill="#00f"/><circle cx="126.7" cy="293.3" r="2.75" fill="#00f"/><circle cx="190.8" cy="218.1" r="2.75" fill="#00f"/><circle cx="157.4" cy="238.5" r="2.75" fill="#00f"/><circle cx="186.5" cy="218.4" r="2.75" fill="#00f"/><circle cx="107.3" cy="242.2" r="2.75" fill="#00f"/><circle cx="161.3" cy="235.8" r="2.75" fill="#00f"/><circle cx="146.4" cy="234.1" r="2.75" fill="#00f"/><circle cx="178.8" cy="225.2" r="2.75" fill="#00f"/><circle cx="157.0" cy="260.0" r="2.75" fill="#00f"/><circle cx="120.1" cy="295.0" r="2.75" fill="#00f"/><circle cx="120.6" cy="274.5" r="2.75" fill="#00f"/><circle cx="208.4" cy="254.3" r="2.75" fill="#00f"/><circle cx="197.9" cy="235.2" r="2.75" fill="#00f"/><circle cx="131.5" cy="280.2" r="2.75" fill="#00f"/><circle cx="210.8" cy="220.4" r="2.75" fill="#00f"/><circle cx="199.7" cy="243.2" r="2.75" fill="#00f"/><circle cx="102.5" cy="247.5" r="2.75" fill="#00f"/><circle cx="147.5" cy="289.4" r="2.75" fill="#00f"/><circle cx="171.6" cy="251.5" r="2.75" fill="#00f"/><circle cx="187.8" cy="254.0" r="2.75" fill="#00f"/><circle cx="197.7" cy="240.7" r="2.75" fill="#00f"/><circle cx="161.6" cy="230.8" r="2.75" fill="#00f"/><circle cx="167.8" cy="229.2" r="2.75" fill="#00f"/><circle cx="169.1" cy="254.0" r="2.75" fill="#00f"/><circle cx="128.4" cy="289.8" r="2.75" fill="#00f"/><circle cx="142.3" cy="277.8" r="2.75" fill="#00f"/><circle cx="141.0" cy="225.2" r="2.75" fill="#00f"/><circle cx="216.5" cy="211.5" r="2.75" fill="#00f"/><circle cx="156.7" cy="227.9" r="2.75" fill="#00f"/><circle cx="223.1" cy="213.8" r="2.75" fill="#00f"/><circle cx="148.9" cy="268.1" r="2.75" fill="#00f"/><circle cx="158.5" cy="230.4" r="2.75" fill="#00f"/><circle cx="208.0" cy="208.8" r="2.75" fill="#00f"/><circle cx="129.2" cy="264.6" r="2.75" fill="#00f"/><circle cx="169.5" cy="248.4" r="2.75" fill="#00f"/><circle cx="112.8" cy="301.0" r="2.75" fill="#00f"/><circle cx="147.7" cy="272.5" r="2.75" fill="#00f"/><circle cx="133.9" cy="261.4" r="2.75" fill="#00f"/><circle cx="85.5" cy="293.1" r="2.75" fill="#00f"/><circle cx="191.1" cy="227.8" r="2.75" fill="#00f"/><circle cx="163.1" cy="240.7" r="2.75" fill="#00f"/><circle cx="211.9" cy="244.8" r="2.75" fill="#00f"/><circle cx="171.4" cy="223.4" r="2.75" fill="#00f"/><circle cx="139.5" cy="261.9" r="2.75" fill="#00f"/><circle cx="145.5" cy="300.2" r="2.75" fill="#00f"/><circle cx="131.6" cy="241.4" r="2.75" fill="#00f"/><circle cx="180.4" cy="202.6" r="2.75" fill="#00f"/><circle cx="116.0" cy="272.2" r="2.75" fill="#00f"/><circle cx="178.5" cy="253.3" r="2.75" fill="#00f"/><circle cx="138.8" cy="201.4" r="2.75" fill="#00f"/><circle cx="166.5" cy="265.5" r="2.75" fill="#00f"/><circle cx="155.4" cy="264.0" r="2.75" fill="#00f"/><circle cx="134.3" cy="300.5" r="2.75" fill="#00f"/><circle cx="179.7" cy="215.9" r="2.75" fill="#00f"/><circle cx="186.7" cy="270.4" r="2.75" fill="#00f"/><circle cx="136.8" cy="251.5" r="2.75" fill="#00f"/><circle cx="170.0" cy="238.1" r="2.75" fill="#00f"/><circle cx="117.1" cy="243.3" r="2.75" fill="#00f"/><circle cx="157.1" cy="288.7" r="2.75" fill="#00f"/><circle cx="159.3" cy="257.3" r="2.75" fill="#00f"/><circle cx="129.1" cy="265.0" r="2.75" fill="#00f"/><circle cx="113.7" cy="287.4" r="2.75" fill="#00f"/><circle cx="159.3" cy="218.8" r="2.75" fill="#00f"/><circle cx="165.3" cy="246.3" r="2.75" fill="#00f"/><circle cx="161.8" cy="248.1" r="2.75" fill="#00f"/><circle cx="128.7" cy="269.0" r="2.75" fill="#00f"/><circle cx="127.5" cy="252.1" r="2.75" fill="#00f"/><circle cx="191.0" cy="251.1" r="2.75" fill="#00f"/><circle cx="149.8" cy="272.9" r="2.75" fill="#00f"/><circle cx="151.9" cy="212.0" r="2.75" fill="#00f"/><circle cx="153.7" cy="242.3" r="2.75" fill="#00f"/><circle cx="153.2" cy="289.0" r="2.75" fill="#00f"/><circle cx="127.0" cy="249.3" r="2.75" fill="#00f"/><circle cx="202.5" cy="246.4" r="2.75" fill="#00f"/><circle cx="242.1" cy="211.7" r="2.75" fill="#00f"/><circle cx="186.9" cy="223.2" r="2.75" fill="#00f"/><circle cx="198.5" cy="224.4" r="2.75" fill="#00f"/><circle cx="161.0" cy="245.4" r="2.75" fill="#00f"/><circle cx="159.1" cy="259.2" r="2.75" fill="#00f"/><circle cx="137.9" cy="221.0" r="2.75" fill="#00f"/><circle cx="149.0" cy="276.8" r="2.75" fill="#00f"/><circle cx="185.6" cy="216.8" r="2.75" fill="#00f"/><circle cx="105.6" cy="295.1" r="2.75" fill="#00f"/><circle cx="159.2" cy="254.7" r="2.75" fill="#00f"/><circle cx="230.2" cy="253.3" r="2.75" fill="#00f"/><circle cx="159.3" cy="261.5" r="2.75" fill="#00f"/><circle cx="129.2" cy="211.1" r="2.75" fill="#00f"/><circle cx="191.1" cy="240.9" r="2.75" fill="#00f"/><circle cx="164.7" cy="257.0" r="2.75" fill="#00f"/><circle cx="132.0" cy="206.3" r="2.75" fill="#00f"/><circle cx="145.9" cy="228.5" r="2.75" fill="#00f"/><circle cx="189.5" cy="230.7" r="2.75" fill="#00f"/><circle cx="190.6" cy="246.6" r="2.75" fill="#00f"/><circle cx="186.4" cy="276.9" r="2.75" fill="#00f"/><circle cx="132.9" cy="254.2" r="2.75" fill="#00f"/><circle cx="118.7" cy="289.9" r="2.75" fill="#00f"/><circle cx="154.6" cy="226.5" r="2.75" fill="#00f"/><circle cx="173.8" cy="212.9" r="2.75" fill="#00f"/><circle cx="62.0" cy="273.3" r="2.75" fill="#00f"/><circle cx="164.0" cy="289.4" r="2.75" fill="#00f"/><circle cx="184.1" cy="223.1" r="2.75" fill="#00f"/><circle cx="184.7" cy="249.1" r="2.75" fill="#00f"/><circle cx="139.4" cy="216.9" r="2.75" fill="#00f"/><circle cx="99.1" cy="247.3" r="2.75" fill="#00f"/><circle cx="135.7" cy="274.9" r="2.75" fill="#00f"/><circle cx="170.7" cy="227.4" r="2.75" fill="#00f"/><circle cx="142.0" cy="258.3" r="2.75" fill="#00f"/><circle cx="199.5" cy="219.9" r="2.75" fill="#00f"/><circle cx="122.7" cy="256.7" r="2.75" fill="#00f"/><circle cx="164.9" cy="255.2" r="2.75" fill="#00f"/><circle cx="218.9" cy="230.6" r="2.75" fill="#00f"/><circle cx="146.1" cy="261.4" r="2.75" fill="#00f"/><circle cx="216.4" cy="204.7" r="2.75" fill="#00f"/><circle cx="196.8" cy="227.0" r="2.75" fill="#00f"/><circle cx="163.9" cy="232.8" r="2.75" fill="#00f"/><circle cx="105.1" cy="275.3" r="2.75" fill="#00f"/><circle cx="179.7" cy="218.9" r="2.75" fill="#00f"/><circle cx="150.9" cy="239.7" r="2.75" fill="#00f"/><circle cx="171.6" cy="230.9" r="2.75" fill="#00f"/><circle cx="103.2" cy="257.1" r="2.75" fill="#00f"/><circle cx="139.2" cy="273.1" r="2.75" fill="#00f"/><circle cx="138.9" cy="268.3" r="2.75" fill="#00f"/><circle cx="138.4" cy="248.8" r="2.75" fill="#00f"/><circle cx="157.8" cy="257.4" r="2.75" fill="#00f"/><circle cx="166.0" cy="237.9" r="2.75" fill="#00f"/><circle cx="135.2" cy="263.8" r="2.75" fill="#00f"/><circle cx="203.0" cy="213.9" r="2.75" fill="#00f"/><circle cx="189.6" cy="232.7" r="2.75" fill="#00f"/><circle cx="168.1" cy="248.9" r="2.75" fill="#00f"/><circle cx="199.2" cy="234.5" r="2.75" fill="#00f"/><circle cx="160.3" cy="217.4" r="2.75" fill="#00f"/><circle cx="194.3" cy="221.8" r="2.75" fill="#00f"/><circle cx="194.4" cy="223.1" r="2.75" fill="#00f"/></g>
<path d="M32.40 386.80L290.45 386.80L290.45 128.88Z" fill="#000" fill-opacity="0.29"/>
<path d="M32.40 386.80L290.45 128.88" stroke="#4a6cae" stroke-width="1.0" fill="none"/>
<path d="M32.40 386.80H290.45V128.88" stroke="#2b4785" stroke-width="1.5" fill="none"/>
<rect x="247.5" y="354.3" width="32.6" height="24" fill="#bcbcbc" stroke="#7a7a7a" stroke-width="0.7"/>
<circle cx="259" cy="360.7" r="2.5" fill="#cc0000" stroke="#300" stroke-width="0.4"/><circle cx="259" cy="371.7" r="2.5" fill="#0000cc" stroke="#003" stroke-width="0.4"/>
<g font-family="Liberation Sans, sans-serif" font-size="9" fill="#111" stroke="#111" stroke-width="0.2"><text x="272" y="364">A</text><text x="271.8" y="375">C</text></g>
<text x="153.2" y="418.6" font-family="Liberation Sans, sans-serif" font-size="13" font-style="italic" fill="#1a1a1a" stroke="#1a1a1a" stroke-width="0.2" textLength="18.5" lengthAdjust="spacingAndGlyphs">t/a</text>
<text transform="translate(9.3,266.6) rotate(-90)" font-family="Liberation Sans, sans-serif" font-size="13" font-style="italic" fill="#1a1a1a" stroke="#1a1a1a" stroke-width="0.2" textLength="19.2" lengthAdjust="spacingAndGlyphs">b/a</text>
<g stroke="#1a0018" stroke-width="0.4"><circle cx="460.5" cy="267.2" r="2.75" fill="#f00"/><circle cx="479.5" cy="251.4" r="2.75" fill="#f00"/><circle cx="489.3" cy="241.2" r="2.75" fill="#f00"/><circle cx="503.3" cy="219.1" r="2.75" fill="#f00"/><circle cx="507.4" cy="214.2" r="2.75" fill="#f00"/><circle cx="463.1" cy="269.2" r="2.75" fill="#f00"/><circle cx="505.4" cy="225.5" r="2.75" fill="#f00"/><circle cx="470.9" cy="244.1" r="2.75" fill="#f00"/><circle cx="457.2" cy="215.7" r="2.75" fill="#f00"/><circle cx="467.9" cy="228.9" r="2.75" fill="#f00"/><circle cx="442.1" cy="262.6" r="2.75" fill="#f00"/><circle cx="487.1" cy="226.1" r="2.75" fill="#f00"/><circle cx="476.4" cy="239.0" r="2.75" fill="#f00"/><circle cx="461.8" cy="239.0" r="2.75" fill="#f00"/><circle cx="479.6" cy="237.7" r="2.75" fill="#f00"/><circle cx="465.5" cy="218.0" r="2.75" fill="#f00"/><circle cx="503.9" cy="216.2" r="2.75" fill="#f00"/><circle cx="513.1" cy="212.1" r="2.75" fill="#f00"/><circle cx="450.6" cy="243.1" r="2.75" fill="#f00"/><circle cx="492.5" cy="237.5" r="2.75" fill="#f00"/><circle cx="454.3" cy="241.2" r="2.75" fill="#f00"/><circle cx="502.1" cy="217.9" r="2.75" fill="#f00"/><circle cx="442.1" cy="262.2" r="2.75" fill="#f00"/><circle cx="462.9" cy="237.8" r="2.75" fill="#f00"/><circle cx="469.5" cy="238.7" r="2.75" fill="#f00"/><circle cx="436.1" cy="244.9" r="2.75" fill="#f00"/><circle cx="481.1" cy="218.7" r="2.75" fill="#f00"/><circle cx="475.9" cy="254.8" r="2.75" fill="#f00"/><circle cx="482.6" cy="207.5" r="2.75" fill="#f00"/><circle cx="440.9" cy="231.6" r="2.75" fill="#f00"/><circle cx="507.9" cy="223.9" r="2.75" fill="#f00"/><circle cx="516.2" cy="210.2" r="2.75" fill="#f00"/><circle cx="472.4" cy="239.0" r="2.75" fill="#f00"/><circle cx="490.4" cy="233.6" r="2.75" fill="#f00"/><circle cx="510.8" cy="210.9" r="2.75" fill="#f00"/><circle cx="478.2" cy="235.7" r="2.75" fill="#f00"/><circle cx="461.7" cy="250.0" r="2.75" fill="#f00"/><circle cx="424.4" cy="277.6" r="2.75" fill="#f00"/><circle cx="457.5" cy="243.1" r="2.75" fill="#f00"/><circle cx="447.3" cy="283.2" r="2.75" fill="#f00"/><circle cx="506.3" cy="201.1" r="2.75" fill="#f00"/><circle cx="480.6" cy="251.8" r="2.75" fill="#f00"/><circle cx="482.0" cy="233.9" r="2.75" fill="#f00"/><circle cx="468.8" cy="238.7" r="2.75" fill="#f00"/><circle cx="469.1" cy="220.4" r="2.75" fill="#f00"/><circle cx="521.1" cy="177.8" r="2.75" fill="#f00"/><circle cx="509.0" cy="206.0" r="2.75" fill="#f00"/><circle cx="444.5" cy="260.3" r="2.75" fill="#f00"/><circle cx="487.9" cy="240.2" r="2.75" fill="#f00"/><circle cx="495.5" cy="225.8" r="2.75" fill="#f00"/><circle cx="443.7" cy="280.8" r="2.75" fill="#f00"/><circle cx="427.7" cy="270.9" r="2.75" fill="#f00"/><circle cx="515.8" cy="207.6" r="2.75" fill="#f00"/><circle cx="483.1" cy="235.1" r="2.75" fill="#f00"/><circle cx="405.3" cy="316.7" r="2.75" fill="#f00"/><circle cx="473.1" cy="233.9" r="2.75" fill="#f00"/><circle cx="430.9" cy="257.8" r="2.75" fill="#f00"/><circle cx="471.9" cy="236.0" r="2.75" fill="#f00"/><circle cx="450.5" cy="235.6" r="2.75" fill="#f00"/><circle cx="458.1" cy="247.8" r="2.75" fill="#f00"/><circle cx="451.7" cy="245.0" r="2.75" fill="#f00"/><circle cx="472.4" cy="245.0" r="2.75" fill="#f00"/><circle cx="486.7" cy="223.2" r="2.75" fill="#f00"/><circle cx="445.4" cy="280.1" r="2.75" fill="#f00"/><circle cx="462.8" cy="240.5" r="2.75" fill="#f00"/><circle cx="463.3" cy="238.6" r="2.75" fill="#f00"/><circle cx="479.4" cy="235.0" r="2.75" fill="#f00"/><circle cx="478.4" cy="200.3" r="2.75" fill="#f00"/><circle cx="504.0" cy="204.5" r="2.75" fill="#f00"/><circle cx="482.2" cy="237.4" r="2.75" fill="#f00"/><circle cx="442.9" cy="277.9" r="2.75" fill="#f00"/><circle cx="454.5" cy="259.2" r="2.75" fill="#f00"/><circle cx="521.6" cy="210.8" r="2.75" fill="#f00"/><circle cx="482.0" cy="238.0" r="2.75" fill="#f00"/><circle cx="460.8" cy="265.0" r="2.75" fill="#f00"/><circle cx="437.0" cy="266.5" r="2.75" fill="#f00"/><circle cx="500.7" cy="210.2" r="2.75" fill="#f00"/><circle cx="444.5" cy="264.8" r="2.75" fill="#f00"/><circle cx="501.2" cy="229.0" r="2.75" fill="#f00"/><circle cx="482.0" cy="243.2" r="2.75" fill="#f00"/><circle cx="438.2" cy="261.4" r="2.75" fill="#f00"/><circle cx="500.8" cy="232.0" r="2.75" fill="#f00"/><circle cx="460.1" cy="265.8" r="2.75" fill="#f00"/><circle cx="469.4" cy="254.2" r="2.75" fill="#f00"/><circle cx="485.6" cy="186.6" r="2.75" fill="#f00"/><circle cx="477.1" cy="213.2" r="2.75" fill="#f00"/><circle cx="479.7" cy="210.7" r="2.75" fill="#f00"/><circle cx="430.9" cy="246.3" r="2.75" fill="#f00"/><circle cx="466.9" cy="255.0" r="2.75" fill="#f00"/><circle cx="509.7" cy="206.9" r="2.75" fill="#f00"/><circle cx="448.5" cy="268.0" r="2.75" fill="#f00"/><circle cx="473.8" cy="248.9" r="2.75" fill="#f00"/><circle cx="466.0" cy="228.8" r="2.75" fill="#f00"/><circle cx="496.7" cy="209.1" r="2.75" fill="#f00"/><circle cx="453.6" cy="262.5" r="2.75" fill="#f00"/><circle cx="447.7" cy="270.7" r="2.75" fill="#f00"/><circle cx="442.7" cy="224.3" r="2.75" fill="#f00"/><circle cx="490.4" cy="237.0" r="2.75" fill="#f00"/><circle cx="451.1" cy="233.0" r="2.75" fill="#f00"/><circle cx="460.9" cy="264.3" r="2.75" fill="#f00"/><circle cx="469.4" cy="253.0" r="2.75" fill="#f00"/><circle cx="503.9" cy="221.7" r="2.75" fill="#f00"/><circle cx="468.5" cy="260.0" r="2.75" fill="#f00"/><circle cx="454.7" cy="239.0" r="2.75" fill="#f00"/><circle cx="404.5" cy="238.5" r="2.75" fill="#f00"/><circle cx="460.8" cy="244.3" r="2.75" fill="#f00"/><circle cx="493.6" cy="216.8" r="2.75" fill="#f00"/><circle cx="482.8" cy="236.1" r="2.75" fill="#f00"/><circle cx="483.0" cy="201.6" r="2.75" fill="#f00"/><circle cx="497.2" cy="235.0" r="2.75" fill="#f00"/><circle cx="483.2" cy="213.4" r="2.75" fill="#f00"/><circle cx="514.4" cy="208.4" r="2.75" fill="#f00"/><circle cx="479.8" cy="247.2" r="2.75" fill="#f00"/><circle cx="526.6" cy="195.7" r="2.75" fill="#f00"/><circle cx="483.7" cy="235.3" r="2.75" fill="#f00"/><circle cx="435.0" cy="278.8" r="2.75" fill="#f00"/><circle cx="487.2" cy="170.9" r="2.75" fill="#f00"/><circle cx="519.5" cy="210.5" r="2.75" fill="#f00"/><circle cx="436.7" cy="236.6" r="2.75" fill="#f00"/><circle cx="478.8" cy="252.9" r="2.75" fill="#f00"/><circle cx="499.1" cy="227.4" r="2.75" fill="#f00"/><circle cx="476.9" cy="242.2" r="2.75" fill="#f00"/><circle cx="520.2" cy="208.6" r="2.75" fill="#f00"/><circle cx="469.5" cy="243.9" r="2.75" fill="#f00"/><circle cx="475.1" cy="240.0" r="2.75" fill="#f00"/><circle cx="484.2" cy="227.8" r="2.75" fill="#f00"/><circle cx="486.7" cy="214.3" r="2.75" fill="#f00"/><circle cx="479.2" cy="232.1" r="2.75" fill="#f00"/><circle cx="446.2" cy="276.8" r="2.75" fill="#f00"/><circle cx="481.1" cy="240.2" r="2.75" fill="#f00"/><circle cx="465.3" cy="223.5" r="2.75" fill="#f00"/><circle cx="532.3" cy="194.0" r="2.75" fill="#f00"/><circle cx="520.0" cy="204.3" r="2.75" fill="#f00"/><circle cx="514.0" cy="195.6" r="2.75" fill="#f00"/><circle cx="463.4" cy="229.5" r="2.75" fill="#f00"/><circle cx="502.7" cy="202.6" r="2.75" fill="#f00"/><circle cx="473.1" cy="258.0" r="2.75" fill="#f00"/><circle cx="445.0" cy="189.0" r="2.75" fill="#f00"/><circle cx="530.5" cy="198.8" r="2.75" fill="#f00"/><circle cx="462.4" cy="268.6" r="2.75" fill="#f00"/><circle cx="472.4" cy="229.5" r="2.75" fill="#f00"/><circle cx="430.0" cy="241.0" r="2.75" fill="#f00"/><circle cx="444.2" cy="260.8" r="2.75" fill="#f00"/><circle cx="486.8" cy="191.7" r="2.75" fill="#f00"/><circle cx="496.6" cy="231.9" r="2.75" fill="#f00"/><circle cx="506.0" cy="224.6" r="2.75" fill="#f00"/><circle cx="471.5" cy="244.6" r="2.75" fill="#f00"/><circle cx="460.9" cy="254.8" r="2.75" fill="#f00"/><circle cx="497.7" cy="220.6" r="2.75" fill="#f00"/><circle cx="488.0" cy="238.1" r="2.75" fill="#f00"/><circle cx="458.2" cy="238.3" r="2.75" fill="#f00"/><circle cx="472.1" cy="252.1" r="2.75" fill="#f00"/><circle cx="502.2" cy="187.6" r="2.75" fill="#f00"/><circle cx="472.2" cy="228.6" r="2.75" fill="#f00"/><circle cx="423.1" cy="259.2" r="2.75" fill="#f00"/><circle cx="439.4" cy="256.4" r="2.75" fill="#f00"/><circle cx="461.3" cy="268.8" r="2.75" fill="#f00"/><circle cx="516.1" cy="204.4" r="2.75" fill="#f00"/><circle cx="424.8" cy="278.0" r="2.75" fill="#f00"/><circle cx="467.2" cy="247.7" r="2.75" fill="#f00"/><circle cx="479.8" cy="233.6" r="2.75" fill="#f00"/><circle cx="443.8" cy="276.8" r="2.75" fill="#f00"/><circle cx="435.1" cy="236.9" r="2.75" fill="#f00"/><circle cx="482.4" cy="248.3" r="2.75" fill="#f00"/><circle cx="480.8" cy="248.4" r="2.75" fill="#f00"/><circle cx="455.6" cy="225.3" r="2.75" fill="#f00"/><circle cx="436.6" cy="277.0" r="2.75" fill="#f00"/><circle cx="475.7" cy="230.3" r="2.75" fill="#f00"/><circle cx="425.2" cy="241.1" r="2.75" fill="#f00"/><circle cx="511.5" cy="218.7" r="2.75" fill="#f00"/><circle cx="458.7" cy="244.0" r="2.75" fill="#f00"/><circle cx="511.9" cy="190.8" r="2.75" fill="#f00"/><circle cx="468.1" cy="245.2" r="2.75" fill="#f00"/><circle cx="504.8" cy="194.0" r="2.75" fill="#f00"/><circle cx="487.1" cy="245.6" r="2.75" fill="#f00"/><circle cx="469.7" cy="224.1" r="2.75" fill="#f00"/><circle cx="440.1" cy="287.7" r="2.75" fill="#f00"/><circle cx="518.3" cy="209.9" r="2.75" fill="#f00"/><circle cx="471.5" cy="256.7" r="2.75" fill="#00f"/><circle cx="457.6" cy="261.4" r="2.75" fill="#f00"/><circle cx="487.7" cy="244.6" r="2.75" fill="#00f"/><circle cx="460.0" cy="232.1" r="2.75" fill="#f00"/><circle cx="492.8" cy="208.5" r="2.75" fill="#f00"/><circle cx="449.8" cy="271.8" r="2.75" fill="#f00"/><circle cx="441.7" cy="213.5" r="2.75" fill="#f00"/><circle cx="426.5" cy="268.6" r="2.75" fill="#f00"/><circle cx="469.1" cy="248.8" r="2.75" fill="#f00"/><circle cx="446.0" cy="236.4" r="2.75" fill="#f00"/><circle cx="487.5" cy="227.8" r="2.75" fill="#00f"/><circle cx="504.6" cy="217.4" r="2.75" fill="#f00"/><circle cx="475.5" cy="233.2" r="2.75" fill="#00f"/><circle cx="466.0" cy="212.3" r="2.75" fill="#00f"/><circle cx="427.4" cy="290.0" r="2.75" fill="#00f"/><circle cx="424.5" cy="290.6" r="2.75" fill="#00f"/><circle cx="451.5" cy="280.7" r="2.75" fill="#00f"/><circle cx="458.4" cy="261.4" r="2.75" fill="#00f"/><circle cx="476.9" cy="246.4" r="2.75" fill="#00f"/><circle cx="471.9" cy="258.4" r="2.75" fill="#f00"/><circle cx="473.3" cy="254.9" r="2.75" fill="#f00"/><circle cx="470.9" cy="259.4" r="2.75" fill="#f00"/><circle cx="464.0" cy="221.7" r="2.75" fill="#00f"/><circle cx="459.1" cy="269.6" r="2.75" fill="#f00"/><circle cx="466.0" cy="247.9" r="2.75" fill="#00f"/><circle cx="461.0" cy="222.9" r="2.75" fill="#f00"/><circle cx="482.8" cy="228.9" r="2.75" fill="#00f"/><circle cx="438.8" cy="275.3" r="2.75" fill="#f00"/><circle cx="426.0" cy="301.4" r="2.75" fill="#f00"/><circle cx="467.4" cy="263.6" r="2.75" fill="#00f"/><circle cx="481.2" cy="246.4" r="2.75" fill="#00f"/><circle cx="422.1" cy="255.4" r="2.75" fill="#f00"/><circle cx="455.6" cy="257.6" r="2.75" fill="#00f"/><circle cx="514.5" cy="213.2" r="2.75" fill="#f00"/><circle cx="469.5" cy="260.9" r="2.75" fill="#f00"/><circle cx="467.2" cy="261.9" r="2.75" fill="#f00"/><circle cx="498.2" cy="218.8" r="2.75" fill="#f00"/><circle cx="436.2" cy="200.9" r="2.75" fill="#00f"/><circle cx="451.2" cy="217.2" r="2.75" fill="#00f"/><circle cx="466.1" cy="255.6" r="2.75" fill="#f00"/><circle cx="466.2" cy="240.4" r="2.75" fill="#f00"/><circle cx="429.1" cy="252.8" r="2.75" fill="#f00"/><circle cx="483.3" cy="234.3" r="2.75" fill="#00f"/><circle cx="472.7" cy="201.2" r="2.75" fill="#f00"/><circle cx="439.7" cy="247.3" r="2.75" fill="#00f"/><circle cx="456.7" cy="266.3" r="2.75" fill="#00f"/><circle cx="470.4" cy="260.2" r="2.75" fill="#00f"/><circle cx="478.7" cy="249.3" r="2.75" fill="#f00"/><circle cx="462.6" cy="269.6" r="2.75" fill="#f00"/><circle cx="489.8" cy="241.5" r="2.75" fill="#00f"/><circle cx="456.0" cy="257.5" r="2.75" fill="#00f"/><circle cx="454.8" cy="245.4" r="2.75" fill="#f00"/><circle cx="441.0" cy="252.6" r="2.75" fill="#f00"/><circle cx="475.2" cy="229.4" r="2.75" fill="#00f"/><circle cx="452.7" cy="260.5" r="2.75" fill="#f00"/><circle cx="456.2" cy="217.9" r="2.75" fill="#f00"/><circle cx="459.7" cy="257.4" r="2.75" fill="#f00"/><circle cx="463.2" cy="242.1" r="2.75" fill="#00f"/><circle cx="460.4" cy="243.6" r="2.75" fill="#00f"/><circle cx="459.7" cy="236.1" r="2.75" fill="#f00"/><circle cx="504.1" cy="215.4" r="2.75" fill="#00f"/><circle cx="471.1" cy="253.1" r="2.75" fill="#00f"/><circle cx="469.6" cy="202.6" r="2.75" fill="#f00"/><circle cx="481.4" cy="224.6" r="2.75" fill="#00f"/><circle cx="511.2" cy="215.8" r="2.75" fill="#f00"/><circle cx="450.0" cy="267.1" r="2.75" fill="#00f"/><circle cx="513.7" cy="206.5" r="2.75" fill="#00f"/><circle cx="501.5" cy="195.7" r="2.75" fill="#00f"/><circle cx="472.4" cy="238.3" r="2.75" fill="#00f"/><circle cx="500.3" cy="178.5" r="2.75" fill="#f00"/><circle cx="465.1" cy="253.7" r="2.75" fill="#00f"/><circle cx="467.1" cy="228.7" r="2.75" fill="#00f"/><circle cx="453.8" cy="255.1" r="2.75" fill="#00f"/><circle cx="474.2" cy="210.9" r="2.75" fill="#f00"/><circle cx="454.3" cy="262.4" r="2.75" fill="#00f"/><circle cx="500.5" cy="229.0" r="2.75" fill="#00f"/><circle cx="460.5" cy="258.6" r="2.75" fill="#00f"/><circle cx="459.7" cy="265.7" r="2.75" fill="#00f"/><circle cx="494.3" cy="226.9" r="2.75" fill="#f00"/><circle cx="486.9" cy="240.0" r="2.75" fill="#00f"/><circle cx="486.1" cy="210.9" r="2.75" fill="#00f"/><circle cx="470.4" cy="255.9" r="2.75" fill="#00f"/><circle cx="520.1" cy="211.8" r="2.75" fill="#00f"/><circle cx="444.3" cy="242.4" r="2.75" fill="#00f"/><circle cx="456.8" cy="260.7" r="2.75" fill="#00f"/><circle cx="496.1" cy="229.0" r="2.75" fill="#f00"/><circle cx="487.2" cy="226.1" r="2.75" fill="#00f"/><circle cx="529.2" cy="194.9" r="2.75" fill="#f00"/><circle cx="468.2" cy="249.7" r="2.75" fill="#00f"/><circle cx="443.9" cy="258.9" r="2.75" fill="#f00"/><circle cx="439.3" cy="283.4" r="2.75" fill="#f00"/><circle cx="506.3" cy="174.2" r="2.75" fill="#f00"/><circle cx="533.2" cy="196.1" r="2.75" fill="#00f"/><circle cx="487.6" cy="226.4" r="2.75" fill="#f00"/><circle cx="512.1" cy="206.2" r="2.75" fill="#00f"/><circle cx="450.0" cy="277.6" r="2.75" fill="#00f"/><circle cx="500.2" cy="224.2" r="2.75" fill="#f00"/><circle cx="501.7" cy="227.4" r="2.75" fill="#00f"/><circle cx="442.8" cy="284.7" r="2.75" fill="#00f"/><circle cx="514.1" cy="211.6" r="2.75" fill="#00f"/><circle cx="466.7" cy="256.3" r="2.75" fill="#00f"/><circle cx="389.6" cy="290.5" r="2.75" fill="#00f"/><circle cx="438.7" cy="221.0" r="2.75" fill="#00f"/><circle cx="469.1" cy="260.1" r="2.75" fill="#00f"/><circle cx="464.1" cy="219.0" r="2.75" fill="#f00"/><circle cx="494.1" cy="219.9" r="2.75" fill="#f00"/><circle cx="444.8" cy="250.7" r="2.75" fill="#f00"/><circle cx="435.9" cy="280.1" r="2.75" fill="#00f"/><circle cx="496.4" cy="207.7" r="2.75" fill="#00f"/><circle cx="473.6" cy="210.3" r="2.75" fill="#f00"/><circle cx="429.7" cy="289.7" r="2.75" fill="#00f"/><circle cx="466.0" cy="252.5" r="2.75" fill="#00f"/><circle cx="452.7" cy="262.9" r="2.75" fill="#00f"/><circle cx="473.6" cy="255.8" r="2.75" fill="#f00"/><circle cx="413.6" cy="286.9" r="2.75" fill="#00f"/><circle cx="450.1" cy="269.2" r="2.75" fill="#f00"/><circle cx="479.8" cy="246.6" r="2.75" fill="#f00"/><circle cx="479.5" cy="228.6" r="2.75" fill="#f00"/><circle cx="408.3" cy="249.2" r="2.75" fill="#00f"/><circle cx="467.8" cy="255.7" r="2.75" fill="#00f"/><circle cx="479.5" cy="250.8" r="2.75" fill="#f00"/><circle cx="461.7" cy="246.3" r="2.75" fill="#00f"/><circle cx="479.9" cy="221.0" r="2.75" fill="#f00"/><circle cx="500.9" cy="228.4" r="2.75" fill="#f00"/><circle cx="456.2" cy="257.9" r="2.75" fill="#f00"/><circle cx="438.3" cy="278.3" r="2.75" fill="#00f"/><circle cx="439.8" cy="258.6" r="2.75" fill="#00f"/><circle cx="451.7" cy="267.3" r="2.75" fill="#00f"/><circle cx="501.5" cy="198.1" r="2.75" fill="#00f"/><circle cx="470.5" cy="195.4" r="2.75" fill="#f00"/><circle cx="484.6" cy="232.4" r="2.75" fill="#f00"/><circle cx="498.9" cy="234.0" r="2.75" fill="#f00"/><circle cx="485.9" cy="245.2" r="2.75" fill="#00f"/><circle cx="525.0" cy="201.7" r="2.75" fill="#f00"/><circle cx="476.0" cy="241.8" r="2.75" fill="#00f"/><circle cx="447.8" cy="246.2" r="2.75" fill="#f00"/><circle cx="451.7" cy="233.2" r="2.75" fill="#00f"/><circle cx="469.2" cy="243.3" r="2.75" fill="#f00"/><circle cx="472.5" cy="216.4" r="2.75" fill="#f00"/><circle cx="487.5" cy="245.2" r="2.75" fill="#f00"/><circle cx="514.1" cy="210.7" r="2.75" fill="#f00"/><circle cx="473.4" cy="207.4" r="2.75" fill="#f00"/><circle cx="468.4" cy="223.2" r="2.75" fill="#00f"/><circle cx="468.8" cy="253.3" r="2.75" fill="#00f"/><circle cx="482.9" cy="218.9" r="2.75" fill="#00f"/><circle cx="452.1" cy="266.1" r="2.75" fill="#f00"/><circle cx="482.7" cy="243.7" r="2.75" fill="#00f"/><circle cx="468.8" cy="216.2" r="2.75" fill="#f00"/><circle cx="495.7" cy="212.9" r="2.75" fill="#f00"/><circle cx="477.5" cy="203.8" r="2.75" fill="#f00"/><circle cx="419.5" cy="240.9" r="2.75" fill="#00f"/><circle cx="502.7" cy="197.6" r="2.75" fill="#00f"/><circle cx="522.1" cy="200.8" r="2.75" fill="#00f"/><circle cx="438.8" cy="245.7" r="2.75" fill="#f00"/><circle cx="492.0" cy="174.5" r="2.75" fill="#f00"/><circle cx="452.2" cy="274.2" r="2.75" fill="#00f"/><circle cx="458.0" cy="228.3" r="2.75" fill="#00f"/><circle cx="442.7" cy="247.6" r="2.75" fill="#00f"/><circle cx="457.4" cy="245.2" r="2.75" fill="#f00"/><circle cx="438.8" cy="228.4" r="2.75" fill="#f00"/><circle cx="463.2" cy="247.9" r="2.75" fill="#00f"/><circle cx="492.1" cy="209.3" r="2.75" fill="#f00"/><circle cx="486.4" cy="229.6" r="2.75" fill="#f00"/><circle cx="477.3" cy="227.9" r="2.75" fill="#f00"/><circle cx="474.8" cy="209.9" r="2.75" fill="#00f"/><circle cx="472.3" cy="248.2" r="2.75" fill="#00f"/><circle cx="490.0" cy="219.5" r="2.75" fill="#00f"/><circle cx="478.4" cy="232.4" r="2.75" fill="#00f"/><circle cx="483.8" cy="244.2" r="2.75" fill="#00f"/><circle cx="452.2" cy="263.6" r="2.75" fill="#f00"/><circle cx="472.4" cy="223.4" r="2.75" fill="#f00"/><circle cx="437.2" cy="235.7" r="2.75" fill="#00f"/><circle cx="425.1" cy="292.8" r="2.75" fill="#00f"/><circle cx="450.6" cy="270.7" r="2.75" fill="#00f"/><circle cx="442.4" cy="234.3" r="2.75" fill="#00f"/><circle cx="466.6" cy="239.6" r="2.75" fill="#f00"/><circle cx="488.2" cy="233.3" r="2.75" fill="#f00"/><circle cx="472.3" cy="258.0" r="2.75" fill="#f00"/><circle cx="477.4" cy="212.2" r="2.75" fill="#f00"/><circle cx="414.5" cy="303.8" r="2.75" fill="#00f"/><circle cx="445.0" cy="256.7" r="2.75" fill="#00f"/><circle cx="498.7" cy="230.4" r="2.75" fill="#f00"/><circle cx="512.2" cy="199.2" r="2.75" fill="#00f"/><circle cx="490.3" cy="224.1" r="2.75" fill="#f00"/><circle cx="497.2" cy="198.5" r="2.75" fill="#f00"/><circle cx="448.0" cy="264.5" r="2.75" fill="#00f"/><circle cx="457.7" cy="232.2" r="2.75" fill="#00f"/><circle cx="504.2" cy="219.2" r="2.75" fill="#f00"/><circle cx="444.2" cy="270.4" r="2.75" fill="#00f"/><circle cx="443.3" cy="247.0" r="2.75" fill="#00f"/><circle cx="445.8" cy="246.0" r="2.75" fill="#00f"/><circle cx="427.6" cy="215.4" r="2.75" fill="#00f"/><circle cx="503.5" cy="211.5" r="2.75" fill="#f00"/><circle cx="459.3" cy="268.1" r="2.75" fill="#00f"/><circle cx="505.6" cy="223.7" r="2.75" fill="#00f"/><circle cx="500.7" cy="209.4" r="2.75" fill="#f00"/><circle cx="498.2" cy="232.7" r="2.75" fill="#00f"/><circle cx="514.5" cy="216.4" r="2.75" fill="#f00"/><circle cx="464.1" cy="230.5" r="2.75" fill="#00f"/><circle cx="459.0" cy="235.8" r="2.75" fill="#00f"/><circle cx="487.7" cy="223.9" r="2.75" fill="#f00"/><circle cx="469.4" cy="257.8" r="2.75" fill="#f00"/><circle cx="476.1" cy="215.3" r="2.75" fill="#f00"/><circle cx="468.3" cy="227.4" r="2.75" fill="#00f"/><circle cx="453.2" cy="270.4" r="2.75" fill="#00f"/><circle cx="458.9" cy="268.1" r="2.75" fill="#00f"/><circle cx="466.9" cy="245.3" r="2.75" fill="#f00"/><circle cx="504.0" cy="213.8" r="2.75" fill="#00f"/><circle cx="495.2" cy="205.3" r="2.75" fill="#f00"/><circle cx="470.4" cy="246.8" r="2.75" fill="#00f"/><circle cx="491.3" cy="202.8" r="2.75" fill="#00f"/><circle cx="449.8" cy="238.7" r="2.75" fill="#f00"/><circle cx="471.8" cy="256.0" r="2.75" fill="#00f"/><circle cx="466.1" cy="223.4" r="2.75" fill="#f00"/><circle cx="490.9" cy="221.3" r="2.75" fill="#f00"/><circle cx="453.1" cy="252.8" r="2.75" fill="#00f"/><circle cx="451.5" cy="277.1" r="2.75" fill="#f00"/><circle cx="426.2" cy="258.6" r="2.75" fill="#00f"/><circle cx="452.6" cy="263.6" r="2.75" fill="#f00"/><circle cx="432.0" cy="248.4" r="2.75" fill="#00f"/><circle cx="480.7" cy="248.8" r="2.75" fill="#f00"/><circle cx="474.3" cy="242.4" r="2.75" fill="#00f"/><circle cx="455.7" cy="239.5" r="2.75" fill="#00f"/><circle cx="492.0" cy="226.8" r="2.75" fill="#00f"/><circle cx="491.6" cy="228.1" r="2.75" fill="#00f"/><circle cx="467.6" cy="246.7" r="2.75" fill="#f00"/><circle cx="447.2" cy="265.1" r="2.75" fill="#00f"/><circle cx="476.3" cy="226.8" r="2.75" fill="#f00"/><circle cx="508.4" cy="213.9" r="2.75" fill="#00f"/><circle cx="508.1" cy="217.7" r="2.75" fill="#00f"/><circle cx="507.4" cy="219.3" r="2.75" fill="#f00"/><circle cx="473.0" cy="258.7" r="2.75" fill="#f00"/><circle cx="477.7" cy="235.8" r="2.75" fill="#f00"/><circle cx="468.3" cy="217.3" r="2.75" fill="#f00"/><circle cx="475.8" cy="238.3" r="2.75" fill="#00f"/><circle cx="492.0" cy="233.0" r="2.75" fill="#00f"/><circle cx="466.6" cy="242.3" r="2.75" fill="#00f"/><circle cx="473.1" cy="243.7" r="2.75" fill="#f00"/><circle cx="527.8" cy="191.1" r="2.75" fill="#f00"/><circle cx="509.8" cy="222.8" r="2.75" fill="#00f"/><circle cx="461.9" cy="232.2" r="2.75" fill="#00f"/><circle cx="473.7" cy="218.1" r="2.75" fill="#f00"/><circle cx="504.3" cy="223.4" r="2.75" fill="#00f"/><circle cx="498.3" cy="224.5" r="2.75" fill="#00f"/><circle cx="513.3" cy="192.5" r="2.75" fill="#f00"/><circle cx="497.7" cy="187.6" r="2.75" fill="#00f"/><circle cx="470.3" cy="258.2" r="2.75" fill="#00f"/><circle cx="464.4" cy="245.0" r="2.75" fill="#00f"/><circle cx="522.7" cy="210.1" r="2.75" fill="#f00"/><circle cx="491.5" cy="228.1" r="2.75" fill="#f00"/><circle cx="443.5" cy="272.7" r="2.75" fill="#00f"/><circle cx="480.6" cy="231.6" r="2.75" fill="#00f"/><circle cx="483.9" cy="237.1" r="2.75" fill="#f00"/><circle cx="459.2" cy="259.5" r="2.75" fill="#00f"/><circle cx="449.7" cy="214.7" r="2.75" fill="#f00"/><circle cx="470.7" cy="249.8" r="2.75" fill="#00f"/><circle cx="454.4" cy="202.1" r="2.75" fill="#f00"/><circle cx="452.9" cy="271.0" r="2.75" fill="#00f"/><circle cx="482.1" cy="242.7" r="2.75" fill="#00f"/><circle cx="515.8" cy="153.3" r="2.75" fill="#f00"/><circle cx="484.7" cy="231.1" r="2.75" fill="#00f"/><circle cx="487.2" cy="204.1" r="2.75" fill="#00f"/><circle cx="460.1" cy="250.2" r="2.75" fill="#00f"/><circle cx="465.4" cy="243.9" r="2.75" fill="#f00"/><circle cx="459.1" cy="249.2" r="2.75" fill="#f00"/><circle cx="435.5" cy="279.7" r="2.75" fill="#f00"/><circle cx="443.5" cy="266.4" r="2.75" fill="#00f"/><circle cx="443.3" cy="235.4" r="2.75" fill="#f00"/><circle cx="479.3" cy="204.4" r="2.75" fill="#f00"/><circle cx="475.4" cy="245.2" r="2.75" fill="#f00"/><circle cx="483.9" cy="217.5" r="2.75" fill="#f00"/><circle cx="456.9" cy="252.6" r="2.75" fill="#f00"/><circle cx="486.0" cy="239.4" r="2.75" fill="#f00"/><circle cx="442.9" cy="259.2" r="2.75" fill="#00f"/><circle cx="469.7" cy="253.7" r="2.75" fill="#f00"/><circle cx="469.6" cy="260.0" r="2.75" fill="#f00"/><circle cx="438.1" cy="251.7" r="2.75" fill="#f00"/><circle cx="478.1" cy="243.9" r="2.75" fill="#f00"/><circle cx="461.4" cy="234.3" r="2.75" fill="#f00"/><circle cx="468.0" cy="246.7" r="2.75" fill="#00f"/><circle cx="450.2" cy="271.8" r="2.75" fill="#f00"/><circle cx="437.6" cy="263.5" r="2.75" fill="#f00"/><circle cx="514.2" cy="202.7" r="2.75" fill="#f00"/><circle cx="449.1" cy="233.2" r="2.75" fill="#00f"/><circle cx="480.8" cy="237.7" r="2.75" fill="#f00"/><circle cx="467.9" cy="264.1" r="2.75" fill="#00f"/><circle cx="462.2" cy="219.0" r="2.75" fill="#00f"/><circle cx="485.4" cy="204.4" r="2.75" fill="#f00"/><circle cx="491.9" cy="197.8" r="2.75" fill="#00f"/><circle cx="485.0" cy="246.2" r="2.75" fill="#f00"/><circle cx="417.1" cy="273.7" r="2.75" fill="#f00"/><circle cx="484.5" cy="224.4" r="2.75" fill="#f00"/><circle cx="465.1" cy="228.8" r="2.75" fill="#00f"/><circle cx="508.9" cy="219.3" r="2.75" fill="#f00"/><circle cx="515.7" cy="215.5" r="2.75" fill="#00f"/><circle cx="468.0" cy="253.2" r="2.75" fill="#00f"/><circle cx="458.0" cy="272.1" r="2.75" fill="#00f"/><circle cx="454.6" cy="275.0" r="2.75" fill="#f00"/><circle cx="471.2" cy="251.3" r="2.75" fill="#00f"/><circle cx="505.8" cy="201.2" r="2.75" fill="#f00"/><circle cx="498.9" cy="229.9" r="2.75" fill="#f00"/><circle cx="445.0" cy="221.8" r="2.75" fill="#f00"/><circle cx="472.7" cy="253.1" r="2.75" fill="#f00"/><circle cx="416.2" cy="299.3" r="2.75" fill="#f00"/><circle cx="461.6" cy="201.1" r="2.75" fill="#00f"/><circle cx="453.4" cy="253.3" r="2.75" fill="#00f"/><circle cx="501.8" cy="207.9" r="2.75" fill="#00f"/><circle cx="437.5" cy="251.9" r="2.75" fill="#00f"/><circle cx="421.0" cy="263.9" r="2.75" fill="#00f"/><circle cx="512.9" cy="216.1" r="2.75" fill="#f00"/><circle cx="462.0" cy="268.1" r="2.75" fill="#00f"/><circle cx="458.9" cy="270.6" r="2.75" fill="#00f"/><circle cx="483.9" cy="237.7" r="2.75" fill="#00f"/><circle cx="473.5" cy="231.3" r="2.75" fill="#f00"/><circle cx="505.8" cy="137.3" r="2.75" fill="#f00"/><circle cx="499.0" cy="225.1" r="2.75" fill="#00f"/><circle cx="457.5" cy="219.0" r="2.75" fill="#00f"/><circle cx="502.3" cy="226.0" r="2.75" fill="#f00"/><circle cx="466.1" cy="254.3" r="2.75" fill="#00f"/><circle cx="455.3" cy="268.8" r="2.75" fill="#00f"/><circle cx="428.4" cy="288.5" r="2.75" fill="#00f"/><circle cx="485.9" cy="243.7" r="2.75" fill="#00f"/><circle cx="508.6" cy="216.3" r="2.75" fill="#00f"/><circle cx="469.5" cy="260.4" r="2.75" fill="#f00"/><circle cx="473.2" cy="235.2" r="2.75" fill="#f00"/><circle cx="506.4" cy="222.6" r="2.75" fill="#00f"/><circle cx="479.3" cy="221.1" r="2.75" fill="#f00"/><circle cx="443.9" cy="275.0" r="2.75" fill="#00f"/><circle cx="506.6" cy="204.0" r="2.75" fill="#f00"/><circle cx="491.5" cy="227.2" r="2.75" fill="#f00"/><circle cx="530.2" cy="194.7" r="2.75" fill="#f00"/><circle cx="454.5" cy="229.7" r="2.75" fill="#00f"/><circle cx="437.3" cy="220.9" r="2.75" fill="#f00"/><circle cx="479.0" cy="253.7" r="2.75" fill="#00f"/><circle cx="460.5" cy="234.5" r="2.75" fill="#00f"/><circle cx="478.2" cy="252.6" r="2.75" fill="#00f"/><circle cx="488.1" cy="234.4" r="2.75" fill="#00f"/><circle cx="489.6" cy="240.5" r="2.75" fill="#f00"/><circle cx="476.7" cy="238.8" r="2.75" fill="#00f"/><circle cx="508.1" cy="222.5" r="2.75" fill="#00f"/><circle cx="450.2" cy="265.3" r="2.75" fill="#00f"/><circle cx="445.8" cy="231.1" r="2.75" fill="#f00"/><circle cx="474.1" cy="147.3" r="2.75" fill="#00f"/><circle cx="453.2" cy="209.2" r="2.75" fill="#00f"/><circle cx="430.5" cy="292.0" r="2.75" fill="#00f"/><circle cx="446.3" cy="232.7" r="2.75" fill="#f00"/><circle cx="459.7" cy="273.2" r="2.75" fill="#00f"/><circle cx="492.0" cy="225.5" r="2.75" fill="#f00"/><circle cx="536.9" cy="192.3" r="2.75" fill="#f00"/><circle cx="469.3" cy="220.2" r="2.75" fill="#f00"/><circle cx="483.8" cy="246.2" r="2.75" fill="#f00"/><circle cx="448.8" cy="204.4" r="2.75" fill="#00f"/><circle cx="490.4" cy="231.3" r="2.75" fill="#00f"/><circle cx="454.4" cy="241.7" r="2.75" fill="#00f"/><circle cx="470.8" cy="238.3" r="2.75" fill="#00f"/><circle cx="521.2" cy="207.8" r="2.75" fill="#f00"/><circle cx="481.8" cy="249.8" r="2.75" fill="#f00"/><circle cx="477.2" cy="247.1" r="2.75" fill="#00f"/><circle cx="481.9" cy="223.0" r="2.75" fill="#00f"/><circle cx="438.7" cy="280.4" r="2.75" fill="#f00"/><circle cx="426.4" cy="276.7" r="2.75" fill="#00f"/><circle cx="505.3" cy="221.6" r="2.75" fill="#00f"/><circle cx="461.7" cy="235.1" r="2.75" fill="#00f"/><circle cx="449.7" cy="250.2" r="2.75" fill="#00f"/><circle cx="494.9" cy="168.1" r="2.75" fill="#00f"/><circle cx="509.5" cy="220.6" r="2.75" fill="#00f"/><circle cx="438.6" cy="209.4" r="2.75" fill="#00f"/><circle cx="502.2" cy="230.7" r="2.75" fill="#f00"/><circle cx="476.7" cy="218.5" r="2.75" fill="#f00"/><circle cx="474.8" cy="216.3" r="2.75" fill="#f00"/><circle cx="478.1" cy="237.8" r="2.75" fill="#f00"/><circle cx="464.6" cy="236.4" r="2.75" fill="#f00"/><circle cx="529.6" cy="200.0" r="2.75" fill="#00f"/><circle cx="495.8" cy="234.4" r="2.75" fill="#00f"/><circle cx="466.2" cy="261.9" r="2.75" fill="#00f"/><circle cx="478.5" cy="214.4" r="2.75" fill="#00f"/><circle cx="477.8" cy="213.7" r="2.75" fill="#00f"/><circle cx="487.6" cy="212.9" r="2.75" fill="#00f"/><circle cx="442.2" cy="256.8" r="2.75" fill="#00f"/><circle cx="420.4" cy="258.4" r="2.75" fill="#00f"/><circle cx="490.1" cy="241.9" r="2.75" fill="#00f"/><circle cx="525.9" cy="196.1" r="2.75" fill="#00f"/><circle cx="462.6" cy="224.3" r="2.75" fill="#00f"/><circle cx="518.8" cy="202.9" r="2.75" fill="#00f"/><circle cx="492.0" cy="219.1" r="2.75" fill="#00f"/><circle cx="510.4" cy="208.3" r="2.75" fill="#00f"/><circle cx="435.5" cy="274.7" r="2.75" fill="#00f"/><circle cx="485.8" cy="231.5" r="2.75" fill="#00f"/><circle cx="448.4" cy="254.3" r="2.75" fill="#00f"/><circle cx="448.0" cy="273.5" r="2.75" fill="#00f"/><circle cx="519.0" cy="199.0" r="2.75" fill="#00f"/><circle cx="461.2" cy="248.3" r="2.75" fill="#00f"/><circle cx="419.7" cy="258.8" r="2.75" fill="#00f"/><circle cx="426.4" cy="283.5" r="2.75" fill="#00f"/><circle cx="466.5" cy="256.3" r="2.75" fill="#00f"/><circle cx="434.8" cy="250.1" r="2.75" fill="#00f"/><circle cx="510.2" cy="218.4" r="2.75" fill="#00f"/><circle cx="493.5" cy="238.6" r="2.75" fill="#00f"/><circle cx="468.0" cy="231.7" r="2.75" fill="#00f"/><circle cx="497.5" cy="216.8" r="2.75" fill="#00f"/><circle cx="478.9" cy="243.7" r="2.75" fill="#00f"/><circle cx="508.1" cy="213.2" r="2.75" fill="#00f"/><circle cx="493.1" cy="238.4" r="2.75" fill="#00f"/><circle cx="506.5" cy="221.1" r="2.75" fill="#00f"/><circle cx="483.4" cy="228.3" r="2.75" fill="#00f"/><circle cx="445.7" cy="281.1" r="2.75" fill="#00f"/><circle cx="443.5" cy="250.5" r="2.75" fill="#00f"/><circle cx="490.1" cy="232.4" r="2.75" fill="#00f"/><circle cx="458.5" cy="246.8" r="2.75" fill="#00f"/><circle cx="487.7" cy="224.5" r="2.75" fill="#00f"/><circle cx="474.2" cy="256.3" r="2.75" fill="#00f"/><circle cx="496.5" cy="229.1" r="2.75" fill="#00f"/><circle cx="484.1" cy="229.4" r="2.75" fill="#00f"/><circle cx="484.3" cy="242.8" r="2.75" fill="#00f"/><circle cx="460.6" cy="258.6" r="2.75" fill="#00f"/><circle cx="502.8" cy="210.1" r="2.75" fill="#00f"/><circle cx="504.8" cy="201.8" r="2.75" fill="#00f"/><circle cx="458.9" cy="263.2" r="2.75" fill="#00f"/><circle cx="457.5" cy="261.5" r="2.75" fill="#00f"/><circle cx="475.3" cy="252.7" r="2.75" fill="#00f"/><circle cx="496.5" cy="235.6" r="2.75" fill="#00f"/><circle cx="426.5" cy="252.8" r="2.75" fill="#00f"/><circle cx="459.6" cy="270.9" r="2.75" fill="#00f"/><circle cx="454.5" cy="269.4" r="2.75" fill="#00f"/><circle cx="477.1" cy="231.6" r="2.75" fill="#00f"/><circle cx="451.8" cy="265.9" r="2.75" fill="#00f"/><circle cx="433.5" cy="279.1" r="2.75" fill="#00f"/><circle cx="457.6" cy="261.9" r="2.75" fill="#00f"/><circle cx="441.7" cy="290.4" r="2.75" fill="#00f"/><circle cx="506.7" cy="215.9" r="2.75" fill="#00f"/><circle cx="473.2" cy="236.3" r="2.75" fill="#00f"/><circle cx="502.4" cy="216.2" r="2.75" fill="#00f"/><circle cx="423.0" cy="240.0" r="2.75" fill="#00f"/><circle cx="477.1" cy="233.6" r="2.75" fill="#00f"/><circle cx="462.1" cy="231.9" r="2.75" fill="#00f"/><circle cx="494.6" cy="223.0" r="2.75" fill="#00f"/><circle cx="472.8" cy="257.8" r="2.75" fill="#00f"/><circle cx="435.8" cy="292.8" r="2.75" fill="#00f"/><circle cx="436.3" cy="272.3" r="2.75" fill="#00f"/><circle cx="480.8" cy="208.7" r="2.75" fill="#00f"/><circle cx="499.9" cy="219.2" r="2.75" fill="#00f"/><circle cx="447.3" cy="278.0" r="2.75" fill="#00f"/><circle cx="514.7" cy="206.3" r="2.75" fill="#00f"/><circle cx="491.8" cy="217.4" r="2.75" fill="#00f"/><circle cx="418.2" cy="245.3" r="2.75" fill="#00f"/><circle cx="445.6" cy="269.5" r="2.75" fill="#00f"/><circle cx="483.6" cy="245.4" r="2.75" fill="#00f"/><circle cx="481.1" cy="229.3" r="2.75" fill="#00f"/><circle cx="494.4" cy="219.4" r="2.75" fill="#00f"/><circle cx="477.4" cy="228.6" r="2.75" fill="#00f"/><circle cx="483.6" cy="227.0" r="2.75" fill="#00f"/><circle cx="481.1" cy="248.0" r="2.75" fill="#00f"/><circle cx="444.2" cy="287.6" r="2.75" fill="#00f"/><circle cx="457.2" cy="274.7" r="2.75" fill="#00f"/><circle cx="456.7" cy="223.0" r="2.75" fill="#00f"/><circle cx="523.7" cy="200.6" r="2.75" fill="#00f"/><circle cx="472.5" cy="225.7" r="2.75" fill="#00f"/><circle cx="521.3" cy="194.0" r="2.75" fill="#00f"/><circle cx="464.7" cy="265.9" r="2.75" fill="#00f"/><circle cx="474.3" cy="228.2" r="2.75" fill="#00f"/><circle cx="523.9" cy="206.6" r="2.75" fill="#00f"/><circle cx="444.9" cy="262.4" r="2.75" fill="#00f"/><circle cx="485.3" cy="246.2" r="2.75" fill="#00f"/><circle cx="428.5" cy="298.8" r="2.75" fill="#00f"/><circle cx="462.5" cy="269.4" r="2.75" fill="#00f"/><circle cx="449.7" cy="259.2" r="2.75" fill="#00f"/><circle cx="401.2" cy="290.9" r="2.75" fill="#00f"/><circle cx="506.9" cy="225.6" r="2.75" fill="#00f"/><circle cx="478.9" cy="238.5" r="2.75" fill="#00f"/><circle cx="490.3" cy="205.2" r="2.75" fill="#00f"/><circle cx="487.2" cy="221.2" r="2.75" fill="#00f"/><circle cx="455.3" cy="259.7" r="2.75" fill="#00f"/><circle cx="434.7" cy="271.6" r="2.75" fill="#00f"/><circle cx="447.3" cy="239.2" r="2.75" fill="#00f"/><circle cx="496.3" cy="200.4" r="2.75" fill="#00f"/><circle cx="431.7" cy="270.0" r="2.75" fill="#00f"/><circle cx="481.8" cy="238.5" r="2.75" fill="#00f"/><circle cx="454.6" cy="199.2" r="2.75" fill="#00f"/><circle cx="469.5" cy="250.6" r="2.75" fill="#00f"/><circle cx="471.1" cy="261.7" r="2.75" fill="#00f"/><circle cx="434.5" cy="282.7" r="2.75" fill="#00f"/><circle cx="495.6" cy="213.7" r="2.75" fill="#00f"/><circle cx="464.6" cy="230.4" r="2.75" fill="#00f"/><circle cx="452.5" cy="249.3" r="2.75" fill="#00f"/><circle cx="485.8" cy="235.9" r="2.75" fill="#00f"/><circle cx="432.8" cy="241.1" r="2.75" fill="#00f"/><circle cx="446.3" cy="260.0" r="2.75" fill="#00f"/><circle cx="475.1" cy="255.1" r="2.75" fill="#00f"/><circle cx="444.8" cy="262.8" r="2.75" fill="#00f"/><circle cx="429.4" cy="285.2" r="2.75" fill="#00f"/><circle cx="475.1" cy="216.6" r="2.75" fill="#00f"/><circle cx="481.1" cy="244.1" r="2.75" fill="#00f"/><circle cx="477.6" cy="245.9" r="2.75" fill="#00f"/><circle cx="444.4" cy="266.8" r="2.75" fill="#00f"/><circle cx="443.3" cy="249.9" r="2.75" fill="#00f"/><circle cx="484.0" cy="226.0" r="2.75" fill="#00f"/><circle cx="462.1" cy="267.2" r="2.75" fill="#00f"/><circle cx="467.7" cy="209.8" r="2.75" fill="#00f"/><circle cx="469.5" cy="240.1" r="2.75" fill="#00f"/><circle cx="446.0" cy="263.9" r="2.75" fill="#00f"/><circle cx="442.7" cy="247.1" r="2.75" fill="#00f"/><circle cx="488.7" cy="214.6" r="2.75" fill="#00f"/><circle cx="523.5" cy="175.0" r="2.75" fill="#00f"/><circle cx="502.8" cy="221.0" r="2.75" fill="#00f"/><circle cx="510.8" cy="218.5" r="2.75" fill="#00f"/><circle cx="476.8" cy="243.2" r="2.75" fill="#00f"/><circle cx="474.9" cy="257.0" r="2.75" fill="#00f"/><circle cx="453.6" cy="218.8" r="2.75" fill="#00f"/><circle cx="458.3" cy="268.0" r="2.75" fill="#00f"/><circle cx="501.4" cy="214.6" r="2.75" fill="#00f"/><circle cx="421.3" cy="292.9" r="2.75" fill="#00f"/><circle cx="475.0" cy="252.5" r="2.75" fill="#00f"/><circle cx="481.8" cy="186.9" r="2.75" fill="#00f"/><circle cx="473.6" cy="257.8" r="2.75" fill="#00f"/><circle cx="444.9" cy="208.9" r="2.75" fill="#00f"/><circle cx="494.2" cy="226.0" r="2.75" fill="#00f"/><circle cx="478.0" cy="252.4" r="2.75" fill="#00f"/><circle cx="447.8" cy="204.1" r="2.75" fill="#00f"/><circle cx="461.7" cy="226.3" r="2.75" fill="#00f"/><circle cx="504.4" cy="227.5" r="2.75" fill="#00f"/><circle cx="488.5" cy="226.4" r="2.75" fill="#00f"/><circle cx="458.1" cy="230.6" r="2.75" fill="#00f"/><circle cx="448.6" cy="252.0" r="2.75" fill="#00f"/><circle cx="434.4" cy="287.7" r="2.75" fill="#00f"/><circle cx="470.4" cy="224.3" r="2.75" fill="#00f"/><circle cx="489.6" cy="210.7" r="2.75" fill="#00f"/><circle cx="377.6" cy="271.1" r="2.75" fill="#00f"/><circle cx="445.6" cy="253.1" r="2.75" fill="#00f"/><circle cx="500.0" cy="220.9" r="2.75" fill="#00f"/><circle cx="486.0" cy="232.4" r="2.75" fill="#00f"/><circle cx="455.2" cy="214.7" r="2.75" fill="#00f"/><circle cx="414.8" cy="245.1" r="2.75" fill="#00f"/><circle cx="451.5" cy="272.7" r="2.75" fill="#00f"/><circle cx="486.5" cy="225.2" r="2.75" fill="#00f"/><circle cx="457.8" cy="256.1" r="2.75" fill="#00f"/><circle cx="515.2" cy="217.6" r="2.75" fill="#00f"/><circle cx="438.4" cy="254.5" r="2.75" fill="#00f"/><circle cx="479.9" cy="252.1" r="2.75" fill="#00f"/><circle cx="504.5" cy="198.2" r="2.75" fill="#00f"/><circle cx="461.8" cy="259.2" r="2.75" fill="#00f"/><circle cx="530.5" cy="200.7" r="2.75" fill="#00f"/><circle cx="508.1" cy="220.3" r="2.75" fill="#00f"/><circle cx="479.7" cy="230.6" r="2.75" fill="#00f"/><circle cx="420.8" cy="273.1" r="2.75" fill="#00f"/><circle cx="495.6" cy="216.7" r="2.75" fill="#00f"/><circle cx="466.7" cy="237.5" r="2.75" fill="#00f"/><circle cx="487.5" cy="228.7" r="2.75" fill="#00f"/><circle cx="418.9" cy="254.9" r="2.75" fill="#00f"/><circle cx="455.0" cy="270.9" r="2.75" fill="#00f"/><circle cx="454.7" cy="266.1" r="2.75" fill="#00f"/><circle cx="454.2" cy="246.6" r="2.75" fill="#00f"/><circle cx="473.6" cy="255.2" r="2.75" fill="#00f"/><circle cx="481.8" cy="235.7" r="2.75" fill="#00f"/><circle cx="451.0" cy="261.6" r="2.75" fill="#00f"/><circle cx="518.9" cy="211.7" r="2.75" fill="#00f"/><circle cx="502.4" cy="227.5" r="2.75" fill="#00f"/><circle cx="483.9" cy="246.7" r="2.75" fill="#00f"/><circle cx="500.6" cy="217.8" r="2.75" fill="#00f"/><circle cx="476.1" cy="215.2" r="2.75" fill="#00f"/><circle cx="510.1" cy="219.6" r="2.75" fill="#00f"/><circle cx="510.2" cy="220.9" r="2.75" fill="#00f"/></g>
<path d="M348.00 384.60L602.46 130.65M348.00 186.20L546.80 186.20M348.00 265.56L467.28 265.56M473.84 225.88L507.04 225.88M395.71 305.24L427.52 305.24M384.3 185.8L373.3 265.4M426.53 186.20L395.71 265.56M467.28 186.20L348.00 384.60M500.68 186.20L473.84 225.88" stroke="#a9a9a9" stroke-width="0.8" fill="none"/>
<rect x="348.8" y="189.2" width="32.9" height="16.2" fill="#ededed"/>
<rect x="385.3" y="188" width="31.7" height="16.2" fill="#ededed"/>
<rect x="352.4" y="274.3" width="37.2" height="16.2" fill="#ededed"/>
<rect x="375.5" y="325" width="27.4" height="15.5" fill="#ededed"/>
<rect x="431.8" y="158.8" width="34" height="26.5" fill="#ffffb8"/>
<rect x="527.7" y="208.4" width="40.1" height="26.8" fill="#ffffb8"/>
<rect x="488.6" y="247.3" width="60.2" height="26.3" fill="#ffffb8"/>
<rect x="450.1" y="285.6" width="52.6" height="27.9" fill="#ffffb8"/>
<g font-family="Liberation Sans, sans-serif" font-size="9" fill="#0c0c0c" stroke="#0c0c0c" stroke-width="0.18" transform="translate(0,-0.4)"><text x="352.6" y="199.9">Plate</text><text x="389.2" y="198.2">Slab</text><text x="356.4" y="285.7">Blade</text><text x="379" y="334.6">Rod</text><text x="435.6" y="169.3">Flat</text><text x="435.6" y="180">Block</text><text x="531.5" y="218.2">Equant</text><text x="531.5" y="228.2">Block</text><text x="492.6" y="257.3">Sub-equant</text><text x="492.6" y="267.5">Block</text><text x="454.2" y="295.8">Elongated</text><text x="454.2" y="306.3">Block</text></g>
<rect x="348.00" y="126.68" width="258.44" height="257.92" stroke="#333" stroke-width="1.2" fill="none"/>
<path d="M367.88 384.60v-2.6M367.88 126.68v2.6M348.00 364.76h2.6M606.44 364.76h-2.6M387.76 384.60v-5.0M387.76 126.68v5.0M348.00 344.92h5.0M606.44 344.92h-5.0M407.64 384.60v-2.6M407.64 126.68v2.6M348.00 325.08h2.6M606.44 325.08h-2.6M427.52 384.60v-5.0M427.52 126.68v5.0M348.00 305.24h5.0M606.44 305.24h-5.0M447.40 384.60v-2.6M447.40 126.68v2.6M348.00 285.40h2.6M606.44 285.40h-2.6M467.28 384.60v-5.0M467.28 126.68v5.0M348.00 265.56h5.0M606.44 265.56h-5.0M487.16 384.60v-2.6M487.16 126.68v2.6M348.00 245.72h2.6M606.44 245.72h-2.6M507.04 384.60v-5.0M507.04 126.68v5.0M348.00 225.88h5.0M606.44 225.88h-5.0M526.92 384.60v-2.6M526.92 126.68v2.6M348.00 206.04h2.6M606.44 206.04h-2.6M546.80 384.60v-5.0M546.80 126.68v5.0M348.00 186.20h5.0M606.44 186.20h-5.0M566.68 384.60v-2.6M566.68 126.68v2.6M348.00 166.36h2.6M606.44 166.36h-2.6M586.56 384.60v-5.0M586.56 126.68v5.0M348.00 146.52h5.0M606.44 146.52h-5.0" stroke="#333" stroke-width="1.1" fill="none"/>
<g font-family="Liberation Sans, sans-serif" font-size="10.4" fill="#1a1a1a" stroke="#1a1a1a" stroke-width="0.15" transform="scale(0.84,1)"><text x="414.29" y="399.20" text-anchor="middle">0</text><text x="407.14" y="388.30" text-anchor="end">0</text><text x="461.62" y="399.20" text-anchor="middle">0.2</text><text x="407.14" y="348.62" text-anchor="end">0.2</text><text x="508.95" y="399.20" text-anchor="middle">0.4</text><text x="407.14" y="308.94" text-anchor="end">0.4</text><text x="556.29" y="399.20" text-anchor="middle">0.6</text><text x="407.14" y="269.26" text-anchor="end">0.6</text><text x="603.62" y="399.20" text-anchor="middle">0.8</text><text x="407.14" y="229.58" text-anchor="end">0.8</text><text x="650.95" y="399.20" text-anchor="middle">1</text><text x="407.14" y="189.90" text-anchor="end">1</text><text x="698.29" y="399.20" text-anchor="middle">1.2</text><text x="407.14" y="150.22" text-anchor="end">1.2</text></g>
<rect x="564.3" y="356" width="28.6" height="20.9" fill="#fff" stroke="#bdbdbd" stroke-width="0.7"/>
<circle cx="573.8" cy="361.7" r="2.2" fill="#ff0000"/><circle cx="573.8" cy="371" r="2.2" fill="#0000ff"/>
<g font-family="Liberation Sans, sans-serif" font-size="8.2" fill="#111" stroke="#111" stroke-width="0.2"><text x="585.2" y="364.5">A</text><text x="585" y="374.4">C</text></g>
<text x="467.6" y="417.2" font-family="Liberation Sans, sans-serif" font-size="13" font-style="italic" fill="#1a1a1a" stroke="#1a1a1a" stroke-width="0.2" textLength="21.2" lengthAdjust="spacingAndGlyphs">T/ A</text>
<text transform="translate(325,265) rotate(-90)" font-family="Liberation Sans, sans-serif" font-size="13" font-style="italic" fill="#1a1a1a" stroke="#1a1a1a" stroke-width="0.2" textLength="21.4" lengthAdjust="spacingAndGlyphs">B/ A</text>
<path d="M356.0 32.5H612.9" stroke="#dcdcdc" stroke-width="0.8" fill="none"/>
<rect x="375.76" y="94.78" width="9.88" height="0.52" fill="#0000ff"/>
<rect x="395.52" y="94.78" width="9.88" height="0.52" fill="#0000ff"/>
<rect x="405.40" y="93.73" width="9.88" height="1.57" fill="#0000ff"/>
<rect x="405.40" y="94.78" width="9.88" height="0.52" fill="#ff0000"/>
<rect x="415.28" y="89.02" width="9.88" height="6.28" fill="#0000ff" stroke="#223" stroke-width="0.35"/>
<rect x="415.28" y="92.16" width="9.88" height="3.14" fill="#ff0000" stroke="#223" stroke-width="0.35"/>
<rect x="425.17" y="78.55" width="9.88" height="16.75" fill="#0000ff" stroke="#223" stroke-width="0.35"/>
<rect x="425.17" y="83.79" width="9.88" height="11.51" fill="#ff0000" stroke="#223" stroke-width="0.35"/>
<rect x="435.05" y="70.70" width="9.88" height="24.60" fill="#0000ff" stroke="#223" stroke-width="0.35"/>
<rect x="435.05" y="85.88" width="9.88" height="9.42" fill="#ff0000" stroke="#223" stroke-width="0.35"/>
<rect x="444.93" y="53.43" width="9.88" height="41.87" fill="#0000ff" stroke="#223" stroke-width="0.35"/>
<rect x="444.93" y="76.46" width="9.88" height="18.84" fill="#ff0000" stroke="#223" stroke-width="0.35"/>
<rect x="454.81" y="45.06" width="9.88" height="50.24" fill="#0000ff" stroke="#223" stroke-width="0.35"/>
<rect x="454.81" y="65.99" width="9.88" height="29.31" fill="#ff0000" stroke="#223" stroke-width="0.35"/>
<rect x="464.69" y="45.06" width="9.88" height="50.24" fill="#0000ff" stroke="#223" stroke-width="0.35"/>
<rect x="464.69" y="61.81" width="9.88" height="33.49" fill="#ff0000" stroke="#223" stroke-width="0.35"/>
<rect x="474.57" y="40.35" width="9.88" height="54.95" fill="#0000ff" stroke="#223" stroke-width="0.35"/>
<rect x="474.57" y="64.95" width="9.88" height="30.35" fill="#ff0000" stroke="#223" stroke-width="0.35"/>
<rect x="484.45" y="51.34" width="9.88" height="43.96" fill="#0000ff" stroke="#223" stroke-width="0.35"/>
<rect x="484.45" y="71.23" width="9.88" height="24.07" fill="#ff0000" stroke="#223" stroke-width="0.35"/>
<rect x="494.33" y="58.67" width="9.88" height="36.63" fill="#0000ff" stroke="#223" stroke-width="0.35"/>
<rect x="494.33" y="71.23" width="9.88" height="24.07" fill="#ff0000" stroke="#223" stroke-width="0.35"/>
<rect x="504.21" y="68.09" width="9.88" height="27.21" fill="#0000ff" stroke="#223" stroke-width="0.35"/>
<rect x="504.21" y="75.41" width="9.88" height="19.89" fill="#ff0000" stroke="#223" stroke-width="0.35"/>
<rect x="514.09" y="84.31" width="9.88" height="10.99" fill="#0000ff" stroke="#223" stroke-width="0.35"/>
<rect x="514.09" y="87.97" width="9.88" height="7.33" fill="#ff0000" stroke="#223" stroke-width="0.35"/>
<rect x="523.97" y="89.54" width="9.88" height="5.76" fill="#0000ff" stroke="#223" stroke-width="0.35"/>
<rect x="523.97" y="92.16" width="9.88" height="3.14" fill="#ff0000" stroke="#223" stroke-width="0.35"/>
<rect x="533.85" y="93.21" width="9.88" height="2.09" fill="#0000ff" stroke="#223" stroke-width="0.35"/>
<rect x="533.85" y="93.21" width="9.88" height="2.09" fill="#ff0000" stroke="#223" stroke-width="0.35"/>
<path d="M356.0 32.5V95.3H612.9V32.5" stroke="#444" stroke-width="0.8" fill="none"/>
<path d="M356.0 95.30h-2.6M356.0 90.07h-1.5M356.0 84.83h-2.6M356.0 79.60h-1.5M356.0 74.37h-2.6M356.0 69.13h-1.5M356.0 63.90h-2.6M356.0 58.67h-1.5M356.0 53.43h-2.6M356.0 48.20h-1.5M356.0 42.97h-2.6M356.0 37.73h-1.5M356.0 32.50h-2.6M356.00 95.3v2.2M365.88 95.3v1.2M375.76 95.3v2.2M385.64 95.3v1.2M395.52 95.3v2.2M405.40 95.3v1.2M415.28 95.3v2.2M425.17 95.3v1.2M435.05 95.3v2.2M444.93 95.3v1.2M454.81 95.3v2.2M464.69 95.3v1.2M474.57 95.3v2.2M484.45 95.3v1.2M494.33 95.3v2.2M504.21 95.3v1.2M514.09 95.3v2.2M523.97 95.3v1.2M533.85 95.3v2.2M543.73 95.3v1.2M553.62 95.3v2.2M563.50 95.3v1.2M573.38 95.3v2.2M583.26 95.3v1.2M593.14 95.3v2.2M603.02 95.3v1.2M612.90 95.3v2.2" stroke="#444" stroke-width="0.6" fill="none"/>
<g font-family="Liberation Sans, sans-serif" font-size="5.4" fill="#222" stroke="#222" stroke-width="0.12"><text x="347.65" y="97.20" textLength="3.75" lengthAdjust="spacingAndGlyphs">0</text><text x="343.90" y="86.73" textLength="7.50" lengthAdjust="spacingAndGlyphs">20</text><text x="343.90" y="76.27" textLength="7.50" lengthAdjust="spacingAndGlyphs">40</text><text x="343.90" y="65.80" textLength="7.50" lengthAdjust="spacingAndGlyphs">60</text><text x="343.90" y="55.33" textLength="7.50" lengthAdjust="spacingAndGlyphs">80</text><text x="340.15" y="44.87" textLength="11.25" lengthAdjust="spacingAndGlyphs">100</text><text x="340.15" y="34.40" textLength="11.25" lengthAdjust="spacingAndGlyphs">120</text><text x="354.50" y="103" textLength="3.60" lengthAdjust="spacingAndGlyphs">0</text><text x="371.76" y="103" textLength="8.60" lengthAdjust="spacingAndGlyphs">0.1</text><text x="391.52" y="103" textLength="8.60" lengthAdjust="spacingAndGlyphs">0.2</text><text x="411.28" y="103" textLength="8.60" lengthAdjust="spacingAndGlyphs">0.3</text><text x="431.05" y="103" textLength="8.60" lengthAdjust="spacingAndGlyphs">0.4</text><text x="450.81" y="103" textLength="8.60" lengthAdjust="spacingAndGlyphs">0.5</text><text x="470.57" y="103" textLength="8.60" lengthAdjust="spacingAndGlyphs">0.6</text><text x="490.33" y="103" textLength="8.60" lengthAdjust="spacingAndGlyphs">0.7</text><text x="510.09" y="103" textLength="8.60" lengthAdjust="spacingAndGlyphs">0.8</text><text x="529.85" y="103" textLength="8.60" lengthAdjust="spacingAndGlyphs">0.9</text><text x="552.12" y="103" textLength="3.60" lengthAdjust="spacingAndGlyphs">1</text><text x="569.38" y="103" textLength="8.60" lengthAdjust="spacingAndGlyphs">1.1</text><text x="589.14" y="103" textLength="8.60" lengthAdjust="spacingAndGlyphs">1.2</text><text x="608.90" y="103" textLength="8.60" lengthAdjust="spacingAndGlyphs">1.3</text><text x="478.4" y="110" textLength="12.4" lengthAdjust="spacingAndGlyphs" font-family="Liberation Mono, monospace" font-size="6" stroke="none">t/a</text><text transform="translate(335.9,71.3) rotate(-90)" textLength="14.4" lengthAdjust="spacingAndGlyphs" font-size="6.4">Count</text></g>
<path d="M615.4 129.0H681.6" stroke="#cfcfcf" stroke-width="0.8" fill="none"/><path d="M681.6 129.0V384.00" stroke="#c4c4c4" stroke-width="0.8" fill="none"/>
<rect x="615.4" y="315.47" width="1.20" height="9.79" fill="#0000ff"/>
<rect x="615.4" y="315.47" width="1.20" height="9.79" fill="#ff0000"/>
<rect x="615.4" y="295.89" width="3.31" height="9.79" fill="#0000ff"/>
<rect x="615.4" y="295.89" width="2.76" height="9.79" fill="#ff0000"/>
<rect x="615.4" y="286.10" width="8.27" height="9.79" fill="#0000ff" stroke="#223" stroke-width="0.35"/>
<rect x="615.4" y="286.10" width="1.65" height="9.79" fill="#ff0000" stroke="#223" stroke-width="0.35"/>
<rect x="615.4" y="276.31" width="22.07" height="9.79" fill="#0000ff" stroke="#223" stroke-width="0.35"/>
<rect x="615.4" y="276.31" width="10.48" height="9.79" fill="#ff0000" stroke="#223" stroke-width="0.35"/>
<rect x="615.4" y="266.52" width="36.41" height="9.79" fill="#0000ff" stroke="#223" stroke-width="0.35"/>
<rect x="615.4" y="266.52" width="19.86" height="9.79" fill="#ff0000" stroke="#223" stroke-width="0.35"/>
<rect x="615.4" y="256.73" width="38.62" height="9.79" fill="#0000ff" stroke="#223" stroke-width="0.35"/>
<rect x="615.4" y="256.73" width="21.51" height="9.79" fill="#ff0000" stroke="#223" stroke-width="0.35"/>
<rect x="615.4" y="246.94" width="56.27" height="9.79" fill="#0000ff" stroke="#223" stroke-width="0.35"/>
<rect x="615.4" y="246.94" width="32.00" height="9.79" fill="#ff0000" stroke="#223" stroke-width="0.35"/>
<rect x="615.4" y="237.15" width="55.17" height="9.79" fill="#0000ff" stroke="#223" stroke-width="0.35"/>
<rect x="615.4" y="237.15" width="32.00" height="9.79" fill="#ff0000" stroke="#223" stroke-width="0.35"/>
<rect x="615.4" y="227.36" width="56.82" height="9.79" fill="#0000ff" stroke="#223" stroke-width="0.35"/>
<rect x="615.4" y="227.36" width="35.86" height="9.79" fill="#ff0000" stroke="#223" stroke-width="0.35"/>
<rect x="615.4" y="217.57" width="48.55" height="9.79" fill="#0000ff" stroke="#223" stroke-width="0.35"/>
<rect x="615.4" y="217.57" width="29.79" height="9.79" fill="#ff0000" stroke="#223" stroke-width="0.35"/>
<rect x="615.4" y="207.78" width="37.51" height="9.79" fill="#0000ff" stroke="#223" stroke-width="0.35"/>
<rect x="615.4" y="207.78" width="22.62" height="9.79" fill="#ff0000" stroke="#223" stroke-width="0.35"/>
<rect x="615.4" y="197.99" width="22.62" height="9.79" fill="#0000ff" stroke="#223" stroke-width="0.35"/>
<rect x="615.4" y="197.99" width="14.34" height="9.79" fill="#ff0000" stroke="#223" stroke-width="0.35"/>
<rect x="615.4" y="188.20" width="11.03" height="9.79" fill="#0000ff" stroke="#223" stroke-width="0.35"/>
<rect x="615.4" y="188.20" width="7.17" height="9.79" fill="#ff0000" stroke="#223" stroke-width="0.35"/>
<rect x="615.4" y="178.41" width="1.20" height="9.79" fill="#0000ff"/>
<rect x="615.4" y="178.41" width="1.20" height="9.79" fill="#ff0000"/>
<rect x="615.4" y="168.62" width="3.31" height="9.79" fill="#0000ff"/>
<rect x="615.4" y="168.62" width="1.65" height="9.79" fill="#ff0000"/>
<rect x="615.4" y="149.04" width="1.20" height="9.79" fill="#0000ff"/>
<rect x="615.4" y="149.04" width="0.55" height="9.79" fill="#ff0000"/>
<rect x="615.4" y="139.25" width="1.20" height="9.79" fill="#0000ff"/>
<rect x="615.4" y="139.25" width="1.20" height="9.79" fill="#ff0000"/>
<path d="M615.4 129.0V384.00H681.6" stroke="#444" stroke-width="0.8" fill="none"/>
<path d="M615.40 384.00v2.4M615.40 129.0v1.68M620.92 384.00v1.3M620.92 129.0v0.9099999999999999M626.43 384.00v2.4M626.43 129.0v1.68M631.95 384.00v1.3M631.95 129.0v0.9099999999999999M637.47 384.00v2.4M637.47 129.0v1.68M642.98 384.00v1.3M642.98 129.0v0.9099999999999999M648.50 384.00v2.4M648.50 129.0v1.68M654.02 384.00v1.3M654.02 129.0v0.9099999999999999M659.53 384.00v2.4M659.53 129.0v1.68M665.05 384.00v1.3M665.05 129.0v0.9099999999999999M670.57 384.00v2.4M670.57 129.0v1.68M676.08 384.00v1.3M676.08 129.0v0.9099999999999999M681.60 384.00v2.4M681.60 129.0v1.68M681.6 384.00h-1.8M681.6 364.42h-1.8M681.6 344.84h-1.8M681.6 325.26h-1.8M681.6 305.68h-1.8M681.6 286.10h-1.8M681.6 266.52h-1.8M681.6 246.94h-1.8M681.6 227.36h-1.8M681.6 207.78h-1.8M681.6 188.20h-1.8M681.6 168.62h-1.8M681.6 149.04h-1.8M681.6 129.46h-1.8" stroke="#555" stroke-width="0.55" fill="none"/>
<g font-family="Liberation Sans, sans-serif" font-size="5.4" fill="#222" stroke="#222" stroke-width="0.12"><text transform="translate(613.50,387.60) rotate(90)" textLength="3.75" lengthAdjust="spacingAndGlyphs">0</text><text transform="translate(624.53,387.60) rotate(90)" textLength="7.50" lengthAdjust="spacingAndGlyphs">20</text><text transform="translate(635.57,387.60) rotate(90)" textLength="7.50" lengthAdjust="spacingAndGlyphs">40</text><text transform="translate(646.60,387.60) rotate(90)" textLength="7.50" lengthAdjust="spacingAndGlyphs">60</text><text transform="translate(657.63,387.60) rotate(90)" textLength="7.50" lengthAdjust="spacingAndGlyphs">80</text><text transform="translate(668.67,387.60) rotate(90)" textLength="11.25" lengthAdjust="spacingAndGlyphs">100</text><text transform="translate(679.70,387.60) rotate(90)" textLength="11.25" lengthAdjust="spacingAndGlyphs">120</text><text x="640.8" y="408" textLength="15.6" lengthAdjust="spacingAndGlyphs" font-size="9.2" stroke="none">Count</text></g>
<rect x="648.8" y="132.6" width="28.2" height="20.6" fill="#fff" stroke="#c8c8c8" stroke-width="0.7"/>
<rect x="650" y="133.8" width="17.5" height="8.7" fill="#0000ff"/><rect x="650" y="144.2" width="17.5" height="7.8" fill="#ff0000"/>
<g font-family="Liberation Sans, sans-serif" font-size="8" fill="#111" stroke="#111" stroke-width="0.2"><text x="670.2" y="141.4">C</text><text x="670.2" y="151.6">A</text></g>
</svg></body></html>
